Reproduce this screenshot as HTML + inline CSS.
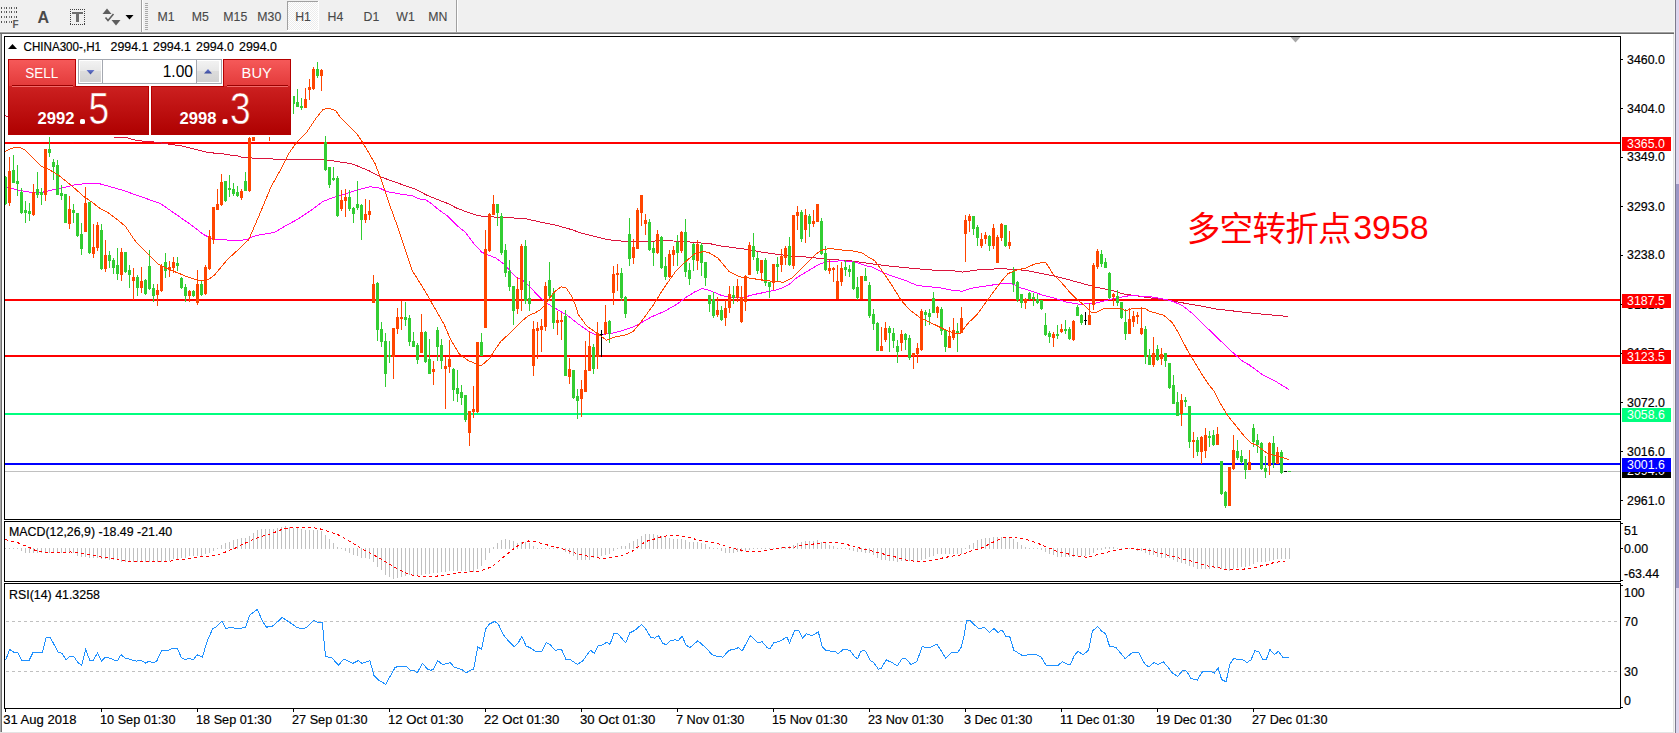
<!DOCTYPE html><html><head><meta charset="utf-8"><title>CHINA300-,H1</title><style>
html,body{margin:0;padding:0;width:1679px;height:733px;overflow:hidden;background:#f0f0f0;}
svg{position:absolute;left:0;top:0;display:block;}
text{font-family:'Liberation Sans', Arial, sans-serif;}
text.k{stroke:#000;stroke-width:0.18px;}
</style></head><body>
<svg width="1679" height="733" viewBox="0 0 1679 733">
<defs>
<linearGradient id="gTab" x1="0" y1="0" x2="0" y2="1"><stop offset="0" stop-color="#f65a5a"/><stop offset="1" stop-color="#e33a3a"/></linearGradient>
<linearGradient id="gBox" x1="0" y1="0" x2="0" y2="1"><stop offset="0" stop-color="#dd3232"/><stop offset="1" stop-color="#ae0000"/></linearGradient>
<linearGradient id="gBtn" x1="0" y1="0" x2="0" y2="1"><stop offset="0" stop-color="#f2f2f2"/><stop offset="0.45" stop-color="#e8e8e8"/><stop offset="0.5" stop-color="#dcdcdc"/><stop offset="1" stop-color="#d2d2d2"/></linearGradient>
<linearGradient id="gArr" x1="0" y1="0" x2="0" y2="1"><stop offset="0" stop-color="#6a7ad0"/><stop offset="1" stop-color="#3a4a9a"/></linearGradient>
<linearGradient id="gBoxU" gradientUnits="userSpaceOnUse" x1="0" y1="-38.3" x2="0" y2="10.7"><stop offset="0" stop-color="#dd3232"/><stop offset="1" stop-color="#ae0000"/></linearGradient>
</defs>
<g shape-rendering="crispEdges">
<rect x="0" y="0" width="1675" height="32" fill="#f0f0f0"/>
<rect x="0" y="31" width="1675" height="1" fill="#f7f7f7"/>
<rect x="0" y="32" width="1675" height="1" fill="#a0a0a0"/>
<rect x="0" y="33" width="1675" height="1" fill="#696969"/>
</g>
<g shape-rendering="crispEdges">
<rect x="1" y="7" width="1" height="2" fill="#4e4e4e"/>
<rect x="4" y="7" width="1" height="2" fill="#8a8a8a"/>
<rect x="6" y="7" width="1" height="2" fill="#4e4e4e"/>
<rect x="9" y="7" width="1" height="2" fill="#8a8a8a"/>
<rect x="11" y="7" width="1" height="2" fill="#4e4e4e"/>
<rect x="14" y="7" width="1" height="2" fill="#8a8a8a"/>
<rect x="16" y="7" width="1" height="2" fill="#4e4e4e"/>
<rect x="1" y="11" width="1" height="2" fill="#4e4e4e"/>
<rect x="4" y="11" width="1" height="2" fill="#8a8a8a"/>
<rect x="6" y="11" width="1" height="2" fill="#4e4e4e"/>
<rect x="9" y="11" width="1" height="2" fill="#8a8a8a"/>
<rect x="11" y="11" width="1" height="2" fill="#4e4e4e"/>
<rect x="14" y="11" width="1" height="2" fill="#8a8a8a"/>
<rect x="16" y="11" width="1" height="2" fill="#4e4e4e"/>
<rect x="1" y="16" width="1" height="2" fill="#4e4e4e"/>
<rect x="4" y="16" width="1" height="2" fill="#8a8a8a"/>
<rect x="6" y="16" width="1" height="2" fill="#4e4e4e"/>
<rect x="9" y="16" width="1" height="2" fill="#8a8a8a"/>
<rect x="11" y="16" width="1" height="2" fill="#4e4e4e"/>
<rect x="14" y="16" width="1" height="2" fill="#8a8a8a"/>
<rect x="16" y="16" width="1" height="2" fill="#4e4e4e"/>
<rect x="1" y="21" width="1" height="2" fill="#4e4e4e"/>
<rect x="4" y="21" width="1" height="2" fill="#8a8a8a"/>
<rect x="6" y="21" width="1" height="2" fill="#4e4e4e"/>
<rect x="9" y="21" width="1" height="2" fill="#8a8a8a"/>
<rect x="11" y="21" width="1" height="2" fill="#4e4e4e"/>
</g>
<text x="12.5" y="28" font-size="10" font-weight="bold" fill="#5a5a5a">F</text>
<text x="37.5" y="23" font-size="16" font-weight="bold" fill="#4a4a4a">A</text>
<g fill="#404040" shape-rendering="crispEdges">
<rect x="70" y="9" width="1" height="1"/><rect x="70" y="24" width="1" height="1"/>
<rect x="72" y="9" width="1" height="1"/><rect x="72" y="24" width="1" height="1"/>
<rect x="74" y="9" width="1" height="1"/><rect x="74" y="24" width="1" height="1"/>
<rect x="76" y="9" width="1" height="1"/><rect x="76" y="24" width="1" height="1"/>
<rect x="78" y="9" width="1" height="1"/><rect x="78" y="24" width="1" height="1"/>
<rect x="80" y="9" width="1" height="1"/><rect x="80" y="24" width="1" height="1"/>
<rect x="82" y="9" width="1" height="1"/><rect x="82" y="24" width="1" height="1"/>
<rect x="84" y="9" width="1" height="1"/><rect x="84" y="24" width="1" height="1"/>
<rect x="70" y="9" width="1" height="1"/><rect x="84" y="9" width="1" height="1"/>
<rect x="70" y="11" width="1" height="1"/><rect x="84" y="11" width="1" height="1"/>
<rect x="70" y="13" width="1" height="1"/><rect x="84" y="13" width="1" height="1"/>
<rect x="70" y="15" width="1" height="1"/><rect x="84" y="15" width="1" height="1"/>
<rect x="70" y="17" width="1" height="1"/><rect x="84" y="17" width="1" height="1"/>
<rect x="70" y="19" width="1" height="1"/><rect x="84" y="19" width="1" height="1"/>
<rect x="70" y="21" width="1" height="1"/><rect x="84" y="21" width="1" height="1"/>
<rect x="70" y="23" width="1" height="1"/><rect x="84" y="23" width="1" height="1"/>
</g>
<g fill="#6e6e6e" shape-rendering="crispEdges"><rect x="72" y="12" width="11" height="2"/><rect x="76" y="12" width="3" height="10"/></g>
<g fill="#5e5e5e">
<path d="M102.5,14 L107,8.5 L111.5,14 Z"/>
<path d="M111.5,20 L120.5,20 L116,25.5 Z"/>
</g>
<path d="M105.5,17.5 L108,20.5 L113.5,14" stroke="#5e5e5e" stroke-width="1.6" fill="none"/>
<path d="M125.5,15 L133.5,15 L129.5,19.5 Z" fill="#000"/>
<g shape-rendering="crispEdges">
<rect x="141" y="0" width="1" height="32" fill="#a0a0a0"/><rect x="142" y="0" width="1" height="32" fill="#ffffff"/>
<rect x="145" y="3" width="3" height="1" fill="#a8a8a8"/>
<rect x="145" y="5" width="3" height="1" fill="#a8a8a8"/>
<rect x="145" y="7" width="3" height="1" fill="#a8a8a8"/>
<rect x="145" y="9" width="3" height="1" fill="#a8a8a8"/>
<rect x="145" y="11" width="3" height="1" fill="#a8a8a8"/>
<rect x="145" y="13" width="3" height="1" fill="#a8a8a8"/>
<rect x="145" y="15" width="3" height="1" fill="#a8a8a8"/>
<rect x="145" y="17" width="3" height="1" fill="#a8a8a8"/>
<rect x="145" y="19" width="3" height="1" fill="#a8a8a8"/>
<rect x="145" y="21" width="3" height="1" fill="#a8a8a8"/>
<rect x="145" y="23" width="3" height="1" fill="#a8a8a8"/>
<rect x="145" y="25" width="3" height="1" fill="#a8a8a8"/>
<rect x="145" y="27" width="3" height="1" fill="#a8a8a8"/>
<rect x="145" y="29" width="3" height="1" fill="#a8a8a8"/>
<rect x="456" y="0" width="1" height="32" fill="#a0a0a0"/><rect x="457" y="0" width="1" height="32" fill="#ffffff"/>
<defs><pattern id="dith" width="2" height="2" patternUnits="userSpaceOnUse"><rect width="2" height="2" fill="#ffffff"/><rect width="1" height="1" fill="#ececec"/><rect x="1" y="1" width="1" height="1" fill="#ececec"/></pattern></defs>
<rect x="287" y="1" width="32" height="30" fill="#ffffff"/>
<rect x="288" y="2" width="30" height="28" fill="url(#dith)"/>
<rect x="287" y="1" width="31" height="1" fill="#a0a0a0"/><rect x="287" y="1" width="1" height="29" fill="#a0a0a0"/>
</g>
<text x="157.5" y="21.3" font-size="12.3" fill="#484848" stroke="#484848" stroke-width="0.12">M1</text>
<text x="191.8" y="21.3" font-size="12.3" fill="#484848" stroke="#484848" stroke-width="0.12">M5</text>
<text x="223.3" y="21.3" font-size="12.3" fill="#484848" stroke="#484848" stroke-width="0.12">M15</text>
<text x="257.3" y="21.3" font-size="12.3" fill="#484848" stroke="#484848" stroke-width="0.12">M30</text>
<text x="295.2" y="21.3" font-size="12.3" fill="#484848" stroke="#484848" stroke-width="0.12">H1</text>
<text x="327.5" y="21.3" font-size="12.3" fill="#484848" stroke="#484848" stroke-width="0.12">H4</text>
<text x="363.5" y="21.3" font-size="12.3" fill="#484848" stroke="#484848" stroke-width="0.12">D1</text>
<text x="396.3" y="21.3" font-size="12.3" fill="#484848" stroke="#484848" stroke-width="0.12">W1</text>
<text x="428.3" y="21.3" font-size="12.3" fill="#484848" stroke="#484848" stroke-width="0.12">MN</text>
<g shape-rendering="crispEdges">
<rect x="1674" y="0" width="1" height="733" fill="#f4f4f4"/>
<rect x="1675" y="0" width="1" height="733" fill="#7c7a8c"/>
<rect x="1676" y="0" width="3" height="733" fill="#ddd5ee"/>
<rect x="1676" y="184" width="3" height="404" fill="#9d97c6"/>
</g>
<g shape-rendering="crispEdges">
<rect x="0" y="34" width="1" height="698" fill="#a8a8a8"/>
<rect x="1" y="34" width="1" height="698" fill="#707070"/>
<rect x="2" y="34" width="1672" height="698" fill="#ffffff"/>
<rect x="1673" y="34" width="1" height="698" fill="#e2e2e2"/>
<rect x="0" y="732" width="1674" height="1" fill="#e4e4e4"/>
</g>
<g shape-rendering="crispEdges">
<rect x="5" y="142" width="1615" height="2" fill="#ff0000"/>
<rect x="5" y="299" width="1615" height="2" fill="#ff0000"/>
<rect x="5" y="355" width="1615" height="2" fill="#ff0000"/>
<rect x="5" y="413" width="1615" height="2" fill="#00ff7f"/>
<rect x="5" y="463" width="1615" height="2" fill="#0000ff"/>
<rect x="5" y="471" width="1615" height="1" fill="#c0c0c0"/>
</g>
<g fill="none" stroke-width="1" shape-rendering="crispEdges" stroke-linejoin="round">
<polyline points="5.0,115.8 9.5,116.5 60.5,126.5 110.5,135.5 116.8,137.9 128.0,137.9 133.0,139.8 141.1,140.9 149.2,141.7 156.3,142.2 172.5,144.7 180.5,145.7 188.7,147.7 196.8,149.8 204.9,151.8 209.0,152.8 220.1,153.3 228.2,154.8 236.3,155.6 241.4,157.1 256.5,158.4 267.1,158.8 297.8,159.9 326.5,159.9 336.7,161.5 349.5,163.3 355.1,165.0 369.2,170.9 382.3,177.5 397.5,182.9 405.5,185.8 415.0,188.9 426.0,194.8 438.2,199.8 447.8,203.5 457.3,208.4 465.5,211.4 473.7,214.4 484.6,216.9 502.3,217.1 526.4,218.9 546.0,223.3 555.5,225.1 563.7,227.5 571.9,229.6 580.1,232.8 588.3,234.9 596.5,236.9 604.6,239.0 612.8,240.2 621.0,241.0 629.2,241.9 642.3,241.7 664.2,240.5 686.0,241.7 710.5,243.8 722.3,246.2 744.2,249.0 766.0,252.8 790.5,256.0 807.3,257.1 829.2,259.3 851.0,260.8 875.5,264.3 892.3,266.4 914.2,268.5 936.0,270.3 960.5,271.2 962.1,272.1 977.3,270.0 999.2,268.7 1014.5,269.3 1027.5,270.8 1045.5,274.3 1053.5,275.9 1066.7,279.2 1084.2,284.0 1097.3,287.5 1112.5,290.5 1123.5,294.0 1130.5,294.9 1150.1,297.9 1174.7,301.5 1199.3,305.7 1215.5,308.9 1250.5,313.0 1288.5,316.5" stroke="#dc143c"/>
<polyline points="5.4,186.9 15.2,189.4 25.0,191.4 37.3,193.1 44.7,191.8 54.5,189.4 64.3,187.4 74.1,185.0 86.4,183.5 98.7,183.5 110.9,186.9 123.7,190.6 140.7,196.6 160.5,203.6 175.2,213.8 192.5,225.9 203.5,234.5 210.1,237.9 216.5,239.5 236.5,240.5 246.6,239.7 252.8,236.6 261.0,234.6 274.3,232.5 285.5,225.8 297.8,219.2 310.1,211.0 322.4,201.8 332.6,197.7 342.9,194.7 355.1,190.6 369.2,186.9 377.9,187.3 386.5,191.5 402.0,194.3 412.3,195.7 419.1,198.9 424.6,199.4 430.0,202.5 438.2,209.4 447.8,216.2 457.3,225.7 465.5,232.5 473.7,243.5 481.9,252.3 488.7,255.3 495.5,257.8 504.5,264.5 515.5,276.8 521.9,279.5 530.0,286.9 539.8,297.5 548.0,304.0 556.2,308.9 564.4,313.8 567.1,315.1 578.0,323.8 588.9,331.5 595.5,334.8 610.7,333.7 620.5,331.2 633.5,326.9 641.3,322.8 651.1,317.0 664.2,311.5 677.3,303.9 686.0,297.4 694.8,291.9 702.5,288.5 710.5,290.8 722.3,295.8 731.1,297.1 744.2,297.1 755.1,294.3 766.0,292.1 777.0,289.9 785.5,286.5 790.5,283.3 796.5,277.9 807.3,271.3 818.3,264.8 827.0,261.5 842.3,260.8 855.4,262.1 866.3,265.9 870.5,266.4 881.4,271.8 892.3,276.2 905.5,280.5 917.5,285.6 927.3,286.5 940.4,287.8 951.3,290.0 962.1,291.2 973.0,287.9 988.3,285.7 999.2,283.9 1012.3,283.9 1021.0,287.9 1032.0,291.2 1042.5,295.1 1053.5,297.8 1066.7,302.1 1079.8,304.3 1095.1,303.2 1106.0,300.6 1117.0,297.8 1130.5,295.5 1150.1,296.6 1169.8,300.3 1182.1,305.3 1194.3,315.1 1206.6,327.4 1215.5,336.0 1228.5,348.5 1241.5,360.5 1249.2,364.9 1262.3,374.7 1275.4,381.2 1288.9,389.5" stroke="#ff00ff"/>
</g>
<g shape-rendering="crispEdges">
<rect x="5" y="176" width="1" height="29" fill="#32cd32"/>
<rect x="4" y="177" width="3" height="27" fill="#32cd32"/>
<rect x="9" y="157" width="1" height="49" fill="#ff4500"/>
<rect x="8" y="171" width="3" height="32" fill="#ff4500"/>
<rect x="13" y="155" width="1" height="28" fill="#32cd32"/>
<rect x="12" y="170" width="3" height="13" fill="#32cd32"/>
<rect x="17" y="165" width="1" height="31" fill="#32cd32"/>
<rect x="16" y="181" width="3" height="3" fill="#32cd32"/>
<rect x="21" y="188" width="1" height="26" fill="#32cd32"/>
<rect x="20" y="192" width="3" height="21" fill="#32cd32"/>
<rect x="25" y="201" width="1" height="22" fill="#32cd32"/>
<rect x="24" y="210" width="3" height="3" fill="#32cd32"/>
<rect x="29" y="203" width="1" height="18" fill="#32cd32"/>
<rect x="28" y="211" width="3" height="3" fill="#32cd32"/>
<rect x="33" y="184" width="1" height="32" fill="#ff4500"/>
<rect x="32" y="192" width="3" height="23" fill="#ff4500"/>
<rect x="37" y="172" width="1" height="26" fill="#32cd32"/>
<rect x="36" y="189" width="3" height="6" fill="#32cd32"/>
<rect x="41" y="188" width="1" height="17" fill="#32cd32"/>
<rect x="40" y="192" width="3" height="3" fill="#32cd32"/>
<rect x="45" y="149" width="1" height="52" fill="#ff4500"/>
<rect x="44" y="149" width="3" height="46" fill="#ff4500"/>
<rect x="49" y="137" width="1" height="20" fill="#32cd32"/>
<rect x="48" y="149" width="3" height="4" fill="#32cd32"/>
<rect x="53" y="159" width="1" height="21" fill="#32cd32"/>
<rect x="52" y="162" width="3" height="5" fill="#32cd32"/>
<rect x="57" y="160" width="1" height="35" fill="#32cd32"/>
<rect x="56" y="165" width="3" height="30" fill="#32cd32"/>
<rect x="61" y="185" width="1" height="15" fill="#32cd32"/>
<rect x="60" y="193" width="3" height="3" fill="#32cd32"/>
<rect x="65" y="194" width="1" height="29" fill="#32cd32"/>
<rect x="64" y="194" width="3" height="29" fill="#32cd32"/>
<rect x="69" y="196" width="1" height="33" fill="#ff4500"/>
<rect x="68" y="209" width="3" height="15" fill="#ff4500"/>
<rect x="73" y="204" width="1" height="19" fill="#32cd32"/>
<rect x="72" y="210" width="3" height="3" fill="#32cd32"/>
<rect x="77" y="213" width="1" height="24" fill="#32cd32"/>
<rect x="76" y="213" width="3" height="23" fill="#32cd32"/>
<rect x="81" y="223" width="1" height="32" fill="#32cd32"/>
<rect x="80" y="234" width="3" height="15" fill="#32cd32"/>
<rect x="85" y="187" width="1" height="45" fill="#ff4500"/>
<rect x="84" y="203" width="3" height="29" fill="#ff4500"/>
<rect x="89" y="202" width="1" height="52" fill="#32cd32"/>
<rect x="88" y="202" width="3" height="51" fill="#32cd32"/>
<rect x="93" y="224" width="1" height="34" fill="#ff4500"/>
<rect x="92" y="247" width="3" height="7" fill="#ff4500"/>
<rect x="97" y="222" width="1" height="29" fill="#ff4500"/>
<rect x="96" y="225" width="3" height="23" fill="#ff4500"/>
<rect x="101" y="224" width="1" height="46" fill="#32cd32"/>
<rect x="100" y="230" width="3" height="39" fill="#32cd32"/>
<rect x="105" y="240" width="1" height="32" fill="#ff4500"/>
<rect x="104" y="255" width="3" height="14" fill="#ff4500"/>
<rect x="109" y="251" width="1" height="17" fill="#32cd32"/>
<rect x="108" y="255" width="3" height="6" fill="#32cd32"/>
<rect x="113" y="258" width="1" height="16" fill="#32cd32"/>
<rect x="112" y="260" width="3" height="8" fill="#32cd32"/>
<rect x="117" y="248" width="1" height="32" fill="#32cd32"/>
<rect x="116" y="265" width="3" height="9" fill="#32cd32"/>
<rect x="121" y="248" width="1" height="33" fill="#ff4500"/>
<rect x="120" y="252" width="3" height="23" fill="#ff4500"/>
<rect x="125" y="252" width="1" height="21" fill="#32cd32"/>
<rect x="124" y="252" width="3" height="20" fill="#32cd32"/>
<rect x="129" y="265" width="1" height="23" fill="#32cd32"/>
<rect x="128" y="270" width="3" height="5" fill="#32cd32"/>
<rect x="133" y="268" width="1" height="32" fill="#ff4500"/>
<rect x="132" y="277" width="3" height="4" fill="#ff4500"/>
<rect x="137" y="275" width="1" height="21" fill="#32cd32"/>
<rect x="136" y="277" width="3" height="11" fill="#32cd32"/>
<rect x="141" y="267" width="1" height="26" fill="#ff4500"/>
<rect x="140" y="281" width="3" height="7" fill="#ff4500"/>
<rect x="145" y="279" width="1" height="16" fill="#32cd32"/>
<rect x="144" y="280" width="3" height="14" fill="#32cd32"/>
<rect x="149" y="250" width="1" height="40" fill="#32cd32"/>
<rect x="148" y="266" width="3" height="23" fill="#32cd32"/>
<rect x="153" y="284" width="1" height="18" fill="#32cd32"/>
<rect x="152" y="288" width="3" height="8" fill="#32cd32"/>
<rect x="157" y="284" width="1" height="22" fill="#ff4500"/>
<rect x="156" y="290" width="3" height="5" fill="#ff4500"/>
<rect x="161" y="264" width="1" height="28" fill="#ff4500"/>
<rect x="160" y="266" width="3" height="25" fill="#ff4500"/>
<rect x="165" y="253" width="1" height="25" fill="#32cd32"/>
<rect x="164" y="262" width="3" height="9" fill="#32cd32"/>
<rect x="169" y="261" width="1" height="16" fill="#ff4500"/>
<rect x="168" y="267" width="3" height="3" fill="#ff4500"/>
<rect x="173" y="257" width="1" height="16" fill="#ff4500"/>
<rect x="172" y="262" width="3" height="6" fill="#ff4500"/>
<rect x="177" y="257" width="1" height="14" fill="#32cd32"/>
<rect x="176" y="263" width="3" height="3" fill="#32cd32"/>
<rect x="181" y="277" width="1" height="12" fill="#32cd32"/>
<rect x="180" y="278" width="3" height="10" fill="#32cd32"/>
<rect x="185" y="284" width="1" height="18" fill="#32cd32"/>
<rect x="184" y="287" width="3" height="9" fill="#32cd32"/>
<rect x="189" y="290" width="1" height="12" fill="#ff4500"/>
<rect x="188" y="291" width="3" height="5" fill="#ff4500"/>
<rect x="193" y="290" width="1" height="7" fill="#32cd32"/>
<rect x="192" y="291" width="3" height="5" fill="#32cd32"/>
<rect x="197" y="270" width="1" height="35" fill="#ff4500"/>
<rect x="196" y="284" width="3" height="19" fill="#ff4500"/>
<rect x="201" y="281" width="1" height="15" fill="#32cd32"/>
<rect x="200" y="284" width="3" height="11" fill="#32cd32"/>
<rect x="205" y="265" width="1" height="30" fill="#ff4500"/>
<rect x="204" y="267" width="3" height="27" fill="#ff4500"/>
<rect x="209" y="230" width="1" height="40" fill="#ff4500"/>
<rect x="208" y="236" width="3" height="33" fill="#ff4500"/>
<rect x="213" y="207" width="1" height="37" fill="#ff4500"/>
<rect x="212" y="207" width="3" height="33" fill="#ff4500"/>
<rect x="217" y="189" width="1" height="21" fill="#ff4500"/>
<rect x="216" y="204" width="3" height="6" fill="#ff4500"/>
<rect x="221" y="174" width="1" height="32" fill="#ff4500"/>
<rect x="220" y="182" width="3" height="23" fill="#ff4500"/>
<rect x="225" y="181" width="1" height="21" fill="#32cd32"/>
<rect x="224" y="181" width="3" height="20" fill="#32cd32"/>
<rect x="229" y="175" width="1" height="22" fill="#32cd32"/>
<rect x="228" y="188" width="3" height="2" fill="#32cd32"/>
<rect x="233" y="183" width="1" height="13" fill="#32cd32"/>
<rect x="232" y="189" width="3" height="5" fill="#32cd32"/>
<rect x="237" y="186" width="1" height="11" fill="#32cd32"/>
<rect x="236" y="192" width="3" height="4" fill="#32cd32"/>
<rect x="241" y="189" width="1" height="11" fill="#ff4500"/>
<rect x="240" y="191" width="3" height="7" fill="#ff4500"/>
<rect x="245" y="172" width="1" height="19" fill="#32cd32"/>
<rect x="244" y="181" width="3" height="10" fill="#32cd32"/>
<rect x="249" y="137" width="1" height="55" fill="#ff4500"/>
<rect x="248" y="138" width="3" height="53" fill="#ff4500"/>
<rect x="253" y="105" width="1" height="36" fill="#ff4500"/>
<rect x="252" y="110" width="3" height="31" fill="#ff4500"/>
<rect x="257" y="95" width="1" height="31" fill="#ff4500"/>
<rect x="256" y="100" width="3" height="21" fill="#ff4500"/>
<rect x="261" y="90" width="1" height="29" fill="#32cd32"/>
<rect x="260" y="95" width="3" height="16" fill="#32cd32"/>
<rect x="265" y="92" width="1" height="27" fill="#ff4500"/>
<rect x="264" y="100" width="3" height="13" fill="#ff4500"/>
<rect x="269" y="100" width="1" height="41" fill="#ff4500"/>
<rect x="268" y="100" width="3" height="26" fill="#ff4500"/>
<rect x="273" y="95" width="1" height="26" fill="#32cd32"/>
<rect x="272" y="100" width="3" height="16" fill="#32cd32"/>
<rect x="277" y="90" width="1" height="21" fill="#ff4500"/>
<rect x="276" y="95" width="3" height="11" fill="#ff4500"/>
<rect x="281" y="85" width="1" height="21" fill="#ff4500"/>
<rect x="280" y="90" width="3" height="11" fill="#ff4500"/>
<rect x="285" y="88" width="1" height="17" fill="#32cd32"/>
<rect x="284" y="92" width="3" height="9" fill="#32cd32"/>
<rect x="289" y="90" width="1" height="16" fill="#ff4500"/>
<rect x="288" y="95" width="3" height="6" fill="#ff4500"/>
<rect x="293" y="96" width="1" height="18" fill="#32cd32"/>
<rect x="292" y="96" width="3" height="8" fill="#32cd32"/>
<rect x="297" y="89" width="1" height="18" fill="#32cd32"/>
<rect x="296" y="102" width="3" height="5" fill="#32cd32"/>
<rect x="301" y="98" width="1" height="12" fill="#32cd32"/>
<rect x="300" y="106" width="3" height="2" fill="#32cd32"/>
<rect x="305" y="88" width="1" height="20" fill="#ff4500"/>
<rect x="304" y="99" width="3" height="9" fill="#ff4500"/>
<rect x="309" y="79" width="1" height="21" fill="#ff4500"/>
<rect x="308" y="87" width="3" height="3" fill="#ff4500"/>
<rect x="313" y="67" width="1" height="23" fill="#ff4500"/>
<rect x="312" y="69" width="3" height="20" fill="#ff4500"/>
<rect x="317" y="62" width="1" height="16" fill="#32cd32"/>
<rect x="316" y="69" width="3" height="7" fill="#32cd32"/>
<rect x="321" y="69" width="1" height="22" fill="#ff4500"/>
<rect x="320" y="70" width="3" height="6" fill="#ff4500"/>
<rect x="325" y="136" width="1" height="35" fill="#32cd32"/>
<rect x="324" y="142" width="3" height="28" fill="#32cd32"/>
<rect x="329" y="167" width="1" height="21" fill="#32cd32"/>
<rect x="328" y="167" width="3" height="18" fill="#32cd32"/>
<rect x="333" y="167" width="1" height="14" fill="#32cd32"/>
<rect x="332" y="178" width="3" height="2" fill="#32cd32"/>
<rect x="337" y="176" width="1" height="41" fill="#32cd32"/>
<rect x="336" y="178" width="3" height="38" fill="#32cd32"/>
<rect x="341" y="190" width="1" height="21" fill="#ff4500"/>
<rect x="340" y="200" width="3" height="9" fill="#ff4500"/>
<rect x="345" y="189" width="1" height="28" fill="#ff4500"/>
<rect x="344" y="197" width="3" height="4" fill="#ff4500"/>
<rect x="349" y="190" width="1" height="21" fill="#32cd32"/>
<rect x="348" y="197" width="3" height="12" fill="#32cd32"/>
<rect x="353" y="207" width="1" height="16" fill="#32cd32"/>
<rect x="352" y="208" width="3" height="6" fill="#32cd32"/>
<rect x="357" y="181" width="1" height="29" fill="#32cd32"/>
<rect x="356" y="204" width="3" height="4" fill="#32cd32"/>
<rect x="361" y="204" width="1" height="36" fill="#32cd32"/>
<rect x="360" y="205" width="3" height="15" fill="#32cd32"/>
<rect x="365" y="199" width="1" height="24" fill="#ff4500"/>
<rect x="364" y="214" width="3" height="6" fill="#ff4500"/>
<rect x="369" y="200" width="1" height="20" fill="#ff4500"/>
<rect x="368" y="211" width="3" height="4" fill="#ff4500"/>
<rect x="373" y="275" width="1" height="28" fill="#ff4500"/>
<rect x="372" y="284" width="3" height="19" fill="#ff4500"/>
<rect x="377" y="282" width="1" height="59" fill="#32cd32"/>
<rect x="376" y="283" width="3" height="47" fill="#32cd32"/>
<rect x="381" y="322" width="1" height="25" fill="#32cd32"/>
<rect x="380" y="329" width="3" height="13" fill="#32cd32"/>
<rect x="385" y="333" width="1" height="54" fill="#32cd32"/>
<rect x="384" y="341" width="3" height="33" fill="#32cd32"/>
<rect x="389" y="341" width="1" height="22" fill="#32cd32"/>
<rect x="388" y="355" width="3" height="2" fill="#32cd32"/>
<rect x="393" y="328" width="1" height="51" fill="#ff4500"/>
<rect x="392" y="328" width="3" height="29" fill="#ff4500"/>
<rect x="397" y="308" width="1" height="26" fill="#ff4500"/>
<rect x="396" y="317" width="3" height="12" fill="#ff4500"/>
<rect x="401" y="301" width="1" height="29" fill="#ff4500"/>
<rect x="400" y="317" width="3" height="2" fill="#ff4500"/>
<rect x="405" y="302" width="1" height="24" fill="#32cd32"/>
<rect x="404" y="317" width="3" height="3" fill="#32cd32"/>
<rect x="409" y="315" width="1" height="31" fill="#32cd32"/>
<rect x="408" y="318" width="3" height="24" fill="#32cd32"/>
<rect x="413" y="332" width="1" height="15" fill="#32cd32"/>
<rect x="412" y="341" width="3" height="6" fill="#32cd32"/>
<rect x="417" y="343" width="1" height="21" fill="#32cd32"/>
<rect x="416" y="345" width="3" height="15" fill="#32cd32"/>
<rect x="421" y="314" width="1" height="39" fill="#ff4500"/>
<rect x="420" y="332" width="3" height="21" fill="#ff4500"/>
<rect x="425" y="331" width="1" height="32" fill="#32cd32"/>
<rect x="424" y="332" width="3" height="30" fill="#32cd32"/>
<rect x="429" y="339" width="1" height="35" fill="#32cd32"/>
<rect x="428" y="359" width="3" height="15" fill="#32cd32"/>
<rect x="433" y="361" width="1" height="24" fill="#ff4500"/>
<rect x="432" y="369" width="3" height="3" fill="#ff4500"/>
<rect x="437" y="327" width="1" height="34" fill="#32cd32"/>
<rect x="436" y="330" width="3" height="17" fill="#32cd32"/>
<rect x="441" y="339" width="1" height="30" fill="#32cd32"/>
<rect x="440" y="345" width="3" height="16" fill="#32cd32"/>
<rect x="445" y="357" width="1" height="52" fill="#ff4500"/>
<rect x="444" y="366" width="3" height="3" fill="#ff4500"/>
<rect x="449" y="340" width="1" height="33" fill="#ff4500"/>
<rect x="448" y="359" width="3" height="8" fill="#ff4500"/>
<rect x="453" y="368" width="1" height="33" fill="#32cd32"/>
<rect x="452" y="369" width="3" height="21" fill="#32cd32"/>
<rect x="457" y="370" width="1" height="32" fill="#32cd32"/>
<rect x="456" y="388" width="3" height="6" fill="#32cd32"/>
<rect x="461" y="385" width="1" height="20" fill="#32cd32"/>
<rect x="460" y="392" width="3" height="6" fill="#32cd32"/>
<rect x="465" y="395" width="1" height="27" fill="#32cd32"/>
<rect x="464" y="395" width="3" height="25" fill="#32cd32"/>
<rect x="469" y="411" width="1" height="35" fill="#ff4500"/>
<rect x="468" y="411" width="3" height="22" fill="#ff4500"/>
<rect x="473" y="386" width="1" height="32" fill="#ff4500"/>
<rect x="472" y="409" width="3" height="3" fill="#ff4500"/>
<rect x="477" y="342" width="1" height="71" fill="#ff4500"/>
<rect x="476" y="342" width="3" height="70" fill="#ff4500"/>
<rect x="481" y="333" width="1" height="23" fill="#32cd32"/>
<rect x="480" y="342" width="3" height="14" fill="#32cd32"/>
<rect x="485" y="230" width="1" height="98" fill="#ff4500"/>
<rect x="484" y="249" width="3" height="79" fill="#ff4500"/>
<rect x="489" y="213" width="1" height="39" fill="#ff4500"/>
<rect x="488" y="214" width="3" height="37" fill="#ff4500"/>
<rect x="493" y="195" width="1" height="20" fill="#ff4500"/>
<rect x="492" y="204" width="3" height="11" fill="#ff4500"/>
<rect x="497" y="204" width="1" height="22" fill="#32cd32"/>
<rect x="496" y="204" width="3" height="9" fill="#32cd32"/>
<rect x="501" y="213" width="1" height="42" fill="#32cd32"/>
<rect x="500" y="216" width="3" height="37" fill="#32cd32"/>
<rect x="505" y="244" width="1" height="33" fill="#32cd32"/>
<rect x="504" y="250" width="3" height="23" fill="#32cd32"/>
<rect x="509" y="260" width="1" height="31" fill="#32cd32"/>
<rect x="508" y="271" width="3" height="16" fill="#32cd32"/>
<rect x="513" y="286" width="1" height="39" fill="#32cd32"/>
<rect x="512" y="286" width="3" height="25" fill="#32cd32"/>
<rect x="517" y="277" width="1" height="37" fill="#ff4500"/>
<rect x="516" y="289" width="3" height="20" fill="#ff4500"/>
<rect x="521" y="244" width="1" height="67" fill="#ff4500"/>
<rect x="520" y="246" width="3" height="44" fill="#ff4500"/>
<rect x="525" y="240" width="1" height="64" fill="#32cd32"/>
<rect x="524" y="246" width="3" height="55" fill="#32cd32"/>
<rect x="529" y="281" width="1" height="30" fill="#32cd32"/>
<rect x="528" y="298" width="3" height="6" fill="#32cd32"/>
<rect x="533" y="321" width="1" height="55" fill="#ff4500"/>
<rect x="532" y="329" width="3" height="37" fill="#ff4500"/>
<rect x="537" y="322" width="1" height="37" fill="#ff4500"/>
<rect x="536" y="328" width="3" height="3" fill="#ff4500"/>
<rect x="541" y="319" width="1" height="33" fill="#ff4500"/>
<rect x="540" y="326" width="3" height="4" fill="#ff4500"/>
<rect x="545" y="282" width="1" height="49" fill="#ff4500"/>
<rect x="544" y="286" width="3" height="41" fill="#ff4500"/>
<rect x="549" y="262" width="1" height="39" fill="#32cd32"/>
<rect x="548" y="280" width="3" height="16" fill="#32cd32"/>
<rect x="553" y="288" width="1" height="41" fill="#32cd32"/>
<rect x="552" y="293" width="3" height="30" fill="#32cd32"/>
<rect x="557" y="311" width="1" height="24" fill="#ff4500"/>
<rect x="556" y="320" width="3" height="3" fill="#ff4500"/>
<rect x="561" y="313" width="1" height="27" fill="#ff4500"/>
<rect x="560" y="320" width="3" height="2" fill="#ff4500"/>
<rect x="565" y="310" width="1" height="66" fill="#32cd32"/>
<rect x="564" y="316" width="3" height="60" fill="#32cd32"/>
<rect x="569" y="358" width="1" height="26" fill="#ff4500"/>
<rect x="568" y="369" width="3" height="8" fill="#ff4500"/>
<rect x="573" y="370" width="1" height="29" fill="#32cd32"/>
<rect x="572" y="370" width="3" height="28" fill="#32cd32"/>
<rect x="577" y="389" width="1" height="30" fill="#32cd32"/>
<rect x="576" y="396" width="3" height="5" fill="#32cd32"/>
<rect x="581" y="380" width="1" height="37" fill="#ff4500"/>
<rect x="580" y="389" width="3" height="10" fill="#ff4500"/>
<rect x="585" y="341" width="1" height="51" fill="#ff4500"/>
<rect x="584" y="370" width="3" height="22" fill="#ff4500"/>
<rect x="589" y="331" width="1" height="40" fill="#ff4500"/>
<rect x="588" y="346" width="3" height="25" fill="#ff4500"/>
<rect x="593" y="344" width="1" height="30" fill="#32cd32"/>
<rect x="592" y="347" width="3" height="22" fill="#32cd32"/>
<rect x="597" y="322" width="1" height="47" fill="#ff4500"/>
<rect x="596" y="333" width="3" height="24" fill="#ff4500"/>
<rect x="601" y="330" width="1" height="27" fill="#000000"/><rect x="600" y="334" width="3" height="1" fill="#000000"/>
<rect x="605" y="305" width="1" height="30" fill="#ff4500"/>
<rect x="604" y="322" width="3" height="12" fill="#ff4500"/>
<rect x="609" y="320" width="1" height="23" fill="#32cd32"/>
<rect x="608" y="321" width="3" height="13" fill="#32cd32"/>
<rect x="613" y="266" width="1" height="39" fill="#ff4500"/>
<rect x="612" y="274" width="3" height="19" fill="#ff4500"/>
<rect x="617" y="264" width="1" height="27" fill="#ff4500"/>
<rect x="616" y="273" width="3" height="2" fill="#ff4500"/>
<rect x="621" y="268" width="1" height="33" fill="#32cd32"/>
<rect x="620" y="273" width="3" height="25" fill="#32cd32"/>
<rect x="625" y="296" width="1" height="22" fill="#32cd32"/>
<rect x="624" y="297" width="3" height="17" fill="#32cd32"/>
<rect x="629" y="218" width="1" height="48" fill="#32cd32"/>
<rect x="628" y="234" width="3" height="25" fill="#32cd32"/>
<rect x="633" y="239" width="1" height="25" fill="#ff4500"/>
<rect x="632" y="247" width="3" height="11" fill="#ff4500"/>
<rect x="637" y="208" width="1" height="41" fill="#ff4500"/>
<rect x="636" y="210" width="3" height="39" fill="#ff4500"/>
<rect x="641" y="195" width="1" height="31" fill="#ff4500"/>
<rect x="640" y="195" width="3" height="18" fill="#ff4500"/>
<rect x="645" y="214" width="1" height="21" fill="#ff4500"/>
<rect x="644" y="220" width="3" height="4" fill="#ff4500"/>
<rect x="649" y="219" width="1" height="32" fill="#32cd32"/>
<rect x="648" y="222" width="3" height="28" fill="#32cd32"/>
<rect x="653" y="242" width="1" height="24" fill="#32cd32"/>
<rect x="652" y="248" width="3" height="5" fill="#32cd32"/>
<rect x="657" y="230" width="1" height="24" fill="#ff4500"/>
<rect x="656" y="234" width="3" height="19" fill="#ff4500"/>
<rect x="661" y="236" width="1" height="33" fill="#32cd32"/>
<rect x="660" y="237" width="3" height="31" fill="#32cd32"/>
<rect x="665" y="257" width="1" height="23" fill="#32cd32"/>
<rect x="664" y="266" width="3" height="11" fill="#32cd32"/>
<rect x="669" y="250" width="1" height="28" fill="#ff4500"/>
<rect x="668" y="254" width="3" height="23" fill="#ff4500"/>
<rect x="673" y="246" width="1" height="20" fill="#ff4500"/>
<rect x="672" y="250" width="3" height="5" fill="#ff4500"/>
<rect x="677" y="235" width="1" height="31" fill="#32cd32"/>
<rect x="676" y="242" width="3" height="11" fill="#32cd32"/>
<rect x="681" y="231" width="1" height="22" fill="#ff4500"/>
<rect x="680" y="232" width="3" height="19" fill="#ff4500"/>
<rect x="685" y="219" width="1" height="58" fill="#32cd32"/>
<rect x="684" y="232" width="3" height="40" fill="#32cd32"/>
<rect x="689" y="263" width="1" height="22" fill="#32cd32"/>
<rect x="688" y="270" width="3" height="9" fill="#32cd32"/>
<rect x="693" y="243" width="1" height="28" fill="#32cd32"/>
<rect x="692" y="244" width="3" height="16" fill="#32cd32"/>
<rect x="697" y="240" width="1" height="30" fill="#ff4500"/>
<rect x="696" y="244" width="3" height="17" fill="#ff4500"/>
<rect x="701" y="243" width="1" height="33" fill="#32cd32"/>
<rect x="700" y="245" width="3" height="18" fill="#32cd32"/>
<rect x="705" y="262" width="1" height="24" fill="#32cd32"/>
<rect x="704" y="262" width="3" height="16" fill="#32cd32"/>
<rect x="709" y="295" width="1" height="17" fill="#32cd32"/>
<rect x="708" y="295" width="3" height="9" fill="#32cd32"/>
<rect x="713" y="292" width="1" height="26" fill="#32cd32"/>
<rect x="712" y="299" width="3" height="17" fill="#32cd32"/>
<rect x="717" y="297" width="1" height="20" fill="#ff4500"/>
<rect x="716" y="310" width="3" height="5" fill="#ff4500"/>
<rect x="721" y="306" width="1" height="15" fill="#32cd32"/>
<rect x="720" y="310" width="3" height="10" fill="#32cd32"/>
<rect x="725" y="300" width="1" height="26" fill="#ff4500"/>
<rect x="724" y="308" width="3" height="10" fill="#ff4500"/>
<rect x="729" y="286" width="1" height="27" fill="#ff4500"/>
<rect x="728" y="294" width="3" height="14" fill="#ff4500"/>
<rect x="733" y="286" width="1" height="18" fill="#32cd32"/>
<rect x="732" y="295" width="3" height="3" fill="#32cd32"/>
<rect x="737" y="279" width="1" height="23" fill="#ff4500"/>
<rect x="736" y="286" width="3" height="12" fill="#ff4500"/>
<rect x="741" y="286" width="1" height="37" fill="#ff4500"/>
<rect x="740" y="297" width="3" height="25" fill="#ff4500"/>
<rect x="745" y="275" width="1" height="36" fill="#ff4500"/>
<rect x="744" y="276" width="3" height="26" fill="#ff4500"/>
<rect x="749" y="242" width="1" height="33" fill="#ff4500"/>
<rect x="748" y="245" width="3" height="30" fill="#ff4500"/>
<rect x="753" y="233" width="1" height="27" fill="#32cd32"/>
<rect x="752" y="246" width="3" height="11" fill="#32cd32"/>
<rect x="757" y="252" width="1" height="22" fill="#32cd32"/>
<rect x="756" y="258" width="3" height="13" fill="#32cd32"/>
<rect x="761" y="260" width="1" height="21" fill="#ff4500"/>
<rect x="760" y="260" width="3" height="13" fill="#ff4500"/>
<rect x="765" y="258" width="1" height="28" fill="#32cd32"/>
<rect x="764" y="260" width="3" height="23" fill="#32cd32"/>
<rect x="769" y="282" width="1" height="16" fill="#32cd32"/>
<rect x="768" y="282" width="3" height="5" fill="#32cd32"/>
<rect x="773" y="264" width="1" height="26" fill="#ff4500"/>
<rect x="772" y="264" width="3" height="19" fill="#ff4500"/>
<rect x="777" y="257" width="1" height="25" fill="#32cd32"/>
<rect x="776" y="264" width="3" height="3" fill="#32cd32"/>
<rect x="781" y="249" width="1" height="23" fill="#ff4500"/>
<rect x="780" y="256" width="3" height="9" fill="#ff4500"/>
<rect x="785" y="246" width="1" height="19" fill="#ff4500"/>
<rect x="784" y="248" width="3" height="10" fill="#ff4500"/>
<rect x="789" y="237" width="1" height="29" fill="#32cd32"/>
<rect x="788" y="246" width="3" height="19" fill="#32cd32"/>
<rect x="793" y="215" width="1" height="54" fill="#ff4500"/>
<rect x="792" y="215" width="3" height="51" fill="#ff4500"/>
<rect x="797" y="206" width="1" height="24" fill="#ff4500"/>
<rect x="796" y="212" width="3" height="4" fill="#ff4500"/>
<rect x="801" y="210" width="1" height="32" fill="#32cd32"/>
<rect x="800" y="212" width="3" height="27" fill="#32cd32"/>
<rect x="805" y="209" width="1" height="34" fill="#ff4500"/>
<rect x="804" y="215" width="3" height="15" fill="#ff4500"/>
<rect x="809" y="214" width="1" height="23" fill="#32cd32"/>
<rect x="808" y="216" width="3" height="8" fill="#32cd32"/>
<rect x="813" y="210" width="1" height="17" fill="#ff4500"/>
<rect x="812" y="221" width="3" height="3" fill="#ff4500"/>
<rect x="817" y="204" width="1" height="18" fill="#ff4500"/>
<rect x="816" y="204" width="3" height="18" fill="#ff4500"/>
<rect x="821" y="218" width="1" height="37" fill="#32cd32"/>
<rect x="820" y="221" width="3" height="33" fill="#32cd32"/>
<rect x="825" y="246" width="1" height="25" fill="#32cd32"/>
<rect x="824" y="253" width="3" height="17" fill="#32cd32"/>
<rect x="829" y="260" width="1" height="14" fill="#ff4500"/>
<rect x="828" y="268" width="3" height="3" fill="#ff4500"/>
<rect x="833" y="267" width="1" height="15" fill="#ff4500"/>
<rect x="832" y="268" width="3" height="2" fill="#ff4500"/>
<rect x="837" y="265" width="1" height="34" fill="#ff4500"/>
<rect x="836" y="281" width="3" height="18" fill="#ff4500"/>
<rect x="841" y="262" width="1" height="24" fill="#ff4500"/>
<rect x="840" y="268" width="3" height="14" fill="#ff4500"/>
<rect x="845" y="260" width="1" height="16" fill="#32cd32"/>
<rect x="844" y="267" width="3" height="3" fill="#32cd32"/>
<rect x="849" y="265" width="1" height="12" fill="#32cd32"/>
<rect x="848" y="269" width="3" height="3" fill="#32cd32"/>
<rect x="853" y="261" width="1" height="29" fill="#32cd32"/>
<rect x="852" y="262" width="3" height="27" fill="#32cd32"/>
<rect x="857" y="277" width="1" height="23" fill="#32cd32"/>
<rect x="856" y="287" width="3" height="11" fill="#32cd32"/>
<rect x="861" y="276" width="1" height="23" fill="#ff4500"/>
<rect x="860" y="276" width="3" height="23" fill="#ff4500"/>
<rect x="865" y="268" width="1" height="13" fill="#32cd32"/>
<rect x="864" y="276" width="3" height="5" fill="#32cd32"/>
<rect x="869" y="282" width="1" height="36" fill="#32cd32"/>
<rect x="868" y="285" width="3" height="31" fill="#32cd32"/>
<rect x="873" y="309" width="1" height="21" fill="#32cd32"/>
<rect x="872" y="314" width="3" height="10" fill="#32cd32"/>
<rect x="877" y="322" width="1" height="29" fill="#32cd32"/>
<rect x="876" y="323" width="3" height="28" fill="#32cd32"/>
<rect x="881" y="327" width="1" height="24" fill="#ff4500"/>
<rect x="880" y="346" width="3" height="5" fill="#ff4500"/>
<rect x="885" y="322" width="1" height="20" fill="#ff4500"/>
<rect x="884" y="328" width="3" height="12" fill="#ff4500"/>
<rect x="889" y="326" width="1" height="26" fill="#32cd32"/>
<rect x="888" y="328" width="3" height="5" fill="#32cd32"/>
<rect x="893" y="328" width="1" height="20" fill="#32cd32"/>
<rect x="892" y="333" width="3" height="8" fill="#32cd32"/>
<rect x="897" y="340" width="1" height="23" fill="#32cd32"/>
<rect x="896" y="346" width="3" height="6" fill="#32cd32"/>
<rect x="901" y="330" width="1" height="21" fill="#ff4500"/>
<rect x="900" y="334" width="3" height="9" fill="#ff4500"/>
<rect x="905" y="333" width="1" height="17" fill="#32cd32"/>
<rect x="904" y="334" width="3" height="6" fill="#32cd32"/>
<rect x="909" y="335" width="1" height="25" fill="#32cd32"/>
<rect x="908" y="338" width="3" height="20" fill="#32cd32"/>
<rect x="913" y="353" width="1" height="16" fill="#ff4500"/>
<rect x="912" y="353" width="3" height="3" fill="#ff4500"/>
<rect x="917" y="343" width="1" height="20" fill="#ff4500"/>
<rect x="916" y="348" width="3" height="6" fill="#ff4500"/>
<rect x="921" y="309" width="1" height="42" fill="#ff4500"/>
<rect x="920" y="311" width="3" height="39" fill="#ff4500"/>
<rect x="925" y="310" width="1" height="16" fill="#32cd32"/>
<rect x="924" y="312" width="3" height="3" fill="#32cd32"/>
<rect x="929" y="309" width="1" height="16" fill="#32cd32"/>
<rect x="928" y="313" width="3" height="4" fill="#32cd32"/>
<rect x="933" y="292" width="1" height="21" fill="#32cd32"/>
<rect x="932" y="298" width="3" height="15" fill="#32cd32"/>
<rect x="937" y="306" width="1" height="12" fill="#ff4500"/>
<rect x="936" y="307" width="3" height="6" fill="#ff4500"/>
<rect x="941" y="307" width="1" height="28" fill="#32cd32"/>
<rect x="940" y="309" width="3" height="22" fill="#32cd32"/>
<rect x="945" y="330" width="1" height="22" fill="#32cd32"/>
<rect x="944" y="330" width="3" height="17" fill="#32cd32"/>
<rect x="949" y="327" width="1" height="21" fill="#ff4500"/>
<rect x="948" y="336" width="3" height="12" fill="#ff4500"/>
<rect x="953" y="318" width="1" height="22" fill="#ff4500"/>
<rect x="952" y="330" width="3" height="8" fill="#ff4500"/>
<rect x="957" y="323" width="1" height="29" fill="#32cd32"/>
<rect x="956" y="331" width="3" height="2" fill="#32cd32"/>
<rect x="961" y="307" width="1" height="26" fill="#ff4500"/>
<rect x="960" y="318" width="3" height="15" fill="#ff4500"/>
<rect x="965" y="215" width="1" height="47" fill="#ff4500"/>
<rect x="964" y="220" width="3" height="14" fill="#ff4500"/>
<rect x="969" y="214" width="1" height="18" fill="#ff4500"/>
<rect x="968" y="216" width="3" height="5" fill="#ff4500"/>
<rect x="973" y="216" width="1" height="19" fill="#32cd32"/>
<rect x="972" y="216" width="3" height="13" fill="#32cd32"/>
<rect x="977" y="225" width="1" height="21" fill="#32cd32"/>
<rect x="976" y="227" width="3" height="11" fill="#32cd32"/>
<rect x="981" y="233" width="1" height="15" fill="#ff4500"/>
<rect x="980" y="239" width="3" height="7" fill="#ff4500"/>
<rect x="985" y="232" width="1" height="12" fill="#ff4500"/>
<rect x="984" y="235" width="3" height="4" fill="#ff4500"/>
<rect x="989" y="235" width="1" height="16" fill="#32cd32"/>
<rect x="988" y="236" width="3" height="10" fill="#32cd32"/>
<rect x="993" y="224" width="1" height="25" fill="#ff4500"/>
<rect x="992" y="228" width="3" height="18" fill="#ff4500"/>
<rect x="997" y="235" width="1" height="28" fill="#ff4500"/>
<rect x="996" y="237" width="3" height="26" fill="#ff4500"/>
<rect x="1001" y="223" width="1" height="18" fill="#ff4500"/>
<rect x="1000" y="224" width="3" height="14" fill="#ff4500"/>
<rect x="1005" y="225" width="1" height="22" fill="#32cd32"/>
<rect x="1004" y="225" width="3" height="21" fill="#32cd32"/>
<rect x="1009" y="231" width="1" height="18" fill="#ff4500"/>
<rect x="1008" y="242" width="3" height="4" fill="#ff4500"/>
<rect x="1013" y="267" width="1" height="25" fill="#32cd32"/>
<rect x="1012" y="271" width="3" height="13" fill="#32cd32"/>
<rect x="1017" y="281" width="1" height="21" fill="#32cd32"/>
<rect x="1016" y="282" width="3" height="18" fill="#32cd32"/>
<rect x="1021" y="294" width="1" height="14" fill="#32cd32"/>
<rect x="1020" y="294" width="3" height="9" fill="#32cd32"/>
<rect x="1025" y="298" width="1" height="11" fill="#ff4500"/>
<rect x="1024" y="299" width="3" height="4" fill="#ff4500"/>
<rect x="1029" y="292" width="1" height="8" fill="#32cd32"/>
<rect x="1028" y="293" width="3" height="6" fill="#32cd32"/>
<rect x="1033" y="293" width="1" height="13" fill="#32cd32"/>
<rect x="1032" y="297" width="3" height="2" fill="#32cd32"/>
<rect x="1037" y="294" width="1" height="10" fill="#32cd32"/>
<rect x="1036" y="299" width="3" height="4" fill="#32cd32"/>
<rect x="1041" y="300" width="1" height="10" fill="#32cd32"/>
<rect x="1040" y="300" width="3" height="9" fill="#32cd32"/>
<rect x="1045" y="313" width="1" height="23" fill="#32cd32"/>
<rect x="1044" y="325" width="3" height="10" fill="#32cd32"/>
<rect x="1049" y="331" width="1" height="12" fill="#32cd32"/>
<rect x="1048" y="333" width="3" height="4" fill="#32cd32"/>
<rect x="1053" y="332" width="1" height="15" fill="#ff4500"/>
<rect x="1052" y="334" width="3" height="4" fill="#ff4500"/>
<rect x="1057" y="325" width="1" height="14" fill="#32cd32"/>
<rect x="1056" y="334" width="3" height="2" fill="#32cd32"/>
<rect x="1061" y="324" width="1" height="9" fill="#ff4500"/>
<rect x="1060" y="329" width="3" height="3" fill="#ff4500"/>
<rect x="1065" y="320" width="1" height="14" fill="#32cd32"/>
<rect x="1064" y="329" width="3" height="2" fill="#32cd32"/>
<rect x="1069" y="327" width="1" height="13" fill="#32cd32"/>
<rect x="1068" y="329" width="3" height="10" fill="#32cd32"/>
<rect x="1073" y="320" width="1" height="21" fill="#ff4500"/>
<rect x="1072" y="321" width="3" height="19" fill="#ff4500"/>
<rect x="1077" y="305" width="1" height="11" fill="#32cd32"/>
<rect x="1076" y="307" width="3" height="9" fill="#32cd32"/>
<rect x="1081" y="314" width="1" height="11" fill="#32cd32"/>
<rect x="1080" y="315" width="3" height="8" fill="#32cd32"/>
<rect x="1085" y="312" width="1" height="13" fill="#000000"/><rect x="1084" y="320" width="3" height="1" fill="#000000"/>
<rect x="1089" y="303" width="1" height="22" fill="#ff4500"/>
<rect x="1088" y="315" width="3" height="10" fill="#ff4500"/>
<rect x="1093" y="263" width="1" height="47" fill="#ff4500"/>
<rect x="1092" y="265" width="3" height="40" fill="#ff4500"/>
<rect x="1097" y="249" width="1" height="20" fill="#ff4500"/>
<rect x="1096" y="251" width="3" height="16" fill="#ff4500"/>
<rect x="1101" y="250" width="1" height="17" fill="#32cd32"/>
<rect x="1100" y="254" width="3" height="10" fill="#32cd32"/>
<rect x="1105" y="258" width="1" height="10" fill="#32cd32"/>
<rect x="1104" y="262" width="3" height="6" fill="#32cd32"/>
<rect x="1109" y="272" width="1" height="27" fill="#32cd32"/>
<rect x="1108" y="273" width="3" height="25" fill="#32cd32"/>
<rect x="1113" y="293" width="1" height="13" fill="#ff4500"/>
<rect x="1112" y="294" width="3" height="3" fill="#ff4500"/>
<rect x="1117" y="290" width="1" height="16" fill="#32cd32"/>
<rect x="1116" y="296" width="3" height="7" fill="#32cd32"/>
<rect x="1121" y="302" width="1" height="17" fill="#32cd32"/>
<rect x="1120" y="302" width="3" height="16" fill="#32cd32"/>
<rect x="1125" y="309" width="1" height="31" fill="#32cd32"/>
<rect x="1124" y="322" width="3" height="12" fill="#32cd32"/>
<rect x="1129" y="308" width="1" height="26" fill="#ff4500"/>
<rect x="1128" y="319" width="3" height="15" fill="#ff4500"/>
<rect x="1133" y="311" width="1" height="16" fill="#ff4500"/>
<rect x="1132" y="316" width="3" height="6" fill="#ff4500"/>
<rect x="1137" y="312" width="1" height="12" fill="#ff4500"/>
<rect x="1136" y="315" width="3" height="2" fill="#ff4500"/>
<rect x="1141" y="307" width="1" height="28" fill="#ff4500"/>
<rect x="1140" y="328" width="3" height="6" fill="#ff4500"/>
<rect x="1145" y="326" width="1" height="38" fill="#32cd32"/>
<rect x="1144" y="329" width="3" height="28" fill="#32cd32"/>
<rect x="1149" y="349" width="1" height="16" fill="#32cd32"/>
<rect x="1148" y="355" width="3" height="10" fill="#32cd32"/>
<rect x="1153" y="337" width="1" height="30" fill="#ff4500"/>
<rect x="1152" y="353" width="3" height="12" fill="#ff4500"/>
<rect x="1157" y="345" width="1" height="16" fill="#32cd32"/>
<rect x="1156" y="349" width="3" height="11" fill="#32cd32"/>
<rect x="1161" y="348" width="1" height="17" fill="#ff4500"/>
<rect x="1160" y="354" width="3" height="5" fill="#ff4500"/>
<rect x="1165" y="353" width="1" height="14" fill="#32cd32"/>
<rect x="1164" y="353" width="3" height="8" fill="#32cd32"/>
<rect x="1169" y="363" width="1" height="26" fill="#32cd32"/>
<rect x="1168" y="363" width="3" height="25" fill="#32cd32"/>
<rect x="1173" y="375" width="1" height="29" fill="#32cd32"/>
<rect x="1172" y="385" width="3" height="19" fill="#32cd32"/>
<rect x="1177" y="392" width="1" height="24" fill="#32cd32"/>
<rect x="1176" y="402" width="3" height="14" fill="#32cd32"/>
<rect x="1181" y="394" width="1" height="32" fill="#ff4500"/>
<rect x="1180" y="400" width="3" height="14" fill="#ff4500"/>
<rect x="1185" y="397" width="1" height="10" fill="#32cd32"/>
<rect x="1184" y="400" width="3" height="2" fill="#32cd32"/>
<rect x="1189" y="406" width="1" height="42" fill="#32cd32"/>
<rect x="1188" y="406" width="3" height="36" fill="#32cd32"/>
<rect x="1193" y="432" width="1" height="26" fill="#ff4500"/>
<rect x="1192" y="440" width="3" height="2" fill="#ff4500"/>
<rect x="1197" y="437" width="1" height="19" fill="#32cd32"/>
<rect x="1196" y="440" width="3" height="12" fill="#32cd32"/>
<rect x="1201" y="436" width="1" height="28" fill="#ff4500"/>
<rect x="1200" y="437" width="3" height="15" fill="#ff4500"/>
<rect x="1205" y="428" width="1" height="30" fill="#ff4500"/>
<rect x="1204" y="435" width="3" height="16" fill="#ff4500"/>
<rect x="1209" y="431" width="1" height="16" fill="#32cd32"/>
<rect x="1208" y="436" width="3" height="2" fill="#32cd32"/>
<rect x="1213" y="430" width="1" height="16" fill="#32cd32"/>
<rect x="1212" y="435" width="3" height="10" fill="#32cd32"/>
<rect x="1217" y="427" width="1" height="18" fill="#ff4500"/>
<rect x="1216" y="434" width="3" height="11" fill="#ff4500"/>
<rect x="1221" y="461" width="1" height="34" fill="#32cd32"/>
<rect x="1220" y="461" width="3" height="33" fill="#32cd32"/>
<rect x="1225" y="491" width="1" height="17" fill="#32cd32"/>
<rect x="1224" y="492" width="3" height="14" fill="#32cd32"/>
<rect x="1229" y="467" width="1" height="39" fill="#ff4500"/>
<rect x="1228" y="467" width="3" height="39" fill="#ff4500"/>
<rect x="1233" y="435" width="1" height="35" fill="#ff4500"/>
<rect x="1232" y="450" width="3" height="19" fill="#ff4500"/>
<rect x="1237" y="440" width="1" height="20" fill="#32cd32"/>
<rect x="1236" y="451" width="3" height="7" fill="#32cd32"/>
<rect x="1241" y="450" width="1" height="14" fill="#32cd32"/>
<rect x="1240" y="456" width="3" height="6" fill="#32cd32"/>
<rect x="1245" y="459" width="1" height="20" fill="#32cd32"/>
<rect x="1244" y="459" width="3" height="11" fill="#32cd32"/>
<rect x="1249" y="450" width="1" height="20" fill="#ff4500"/>
<rect x="1248" y="462" width="3" height="8" fill="#ff4500"/>
<rect x="1253" y="424" width="1" height="23" fill="#32cd32"/>
<rect x="1252" y="428" width="3" height="14" fill="#32cd32"/>
<rect x="1257" y="434" width="1" height="19" fill="#32cd32"/>
<rect x="1256" y="440" width="3" height="5" fill="#32cd32"/>
<rect x="1261" y="442" width="1" height="28" fill="#32cd32"/>
<rect x="1260" y="443" width="3" height="26" fill="#32cd32"/>
<rect x="1265" y="456" width="1" height="22" fill="#32cd32"/>
<rect x="1264" y="468" width="3" height="4" fill="#32cd32"/>
<rect x="1269" y="442" width="1" height="33" fill="#ff4500"/>
<rect x="1268" y="443" width="3" height="23" fill="#ff4500"/>
<rect x="1273" y="436" width="1" height="32" fill="#32cd32"/>
<rect x="1272" y="443" width="3" height="20" fill="#32cd32"/>
<rect x="1277" y="447" width="1" height="17" fill="#ff4500"/>
<rect x="1276" y="452" width="3" height="12" fill="#ff4500"/>
<rect x="1281" y="450" width="1" height="24" fill="#32cd32"/>
<rect x="1280" y="452" width="3" height="21" fill="#32cd32"/>
<rect x="1284" y="471" width="3" height="1" fill="#000"/>
<rect x="1288" y="471" width="3" height="1" fill="#32cd32"/>
</g>
<g fill="none" stroke-width="1" shape-rendering="crispEdges" stroke-linejoin="round">
<polyline points="5.4,151.4 9.4,149.2 13.5,147.9 21.0,147.9 25.0,150.1 32.4,157.5 41.0,166.1 49.5,169.8 59.4,175.9 71.7,185.7 82.8,195.7 91.3,201.7 101.5,209.4 108.3,212.8 118.5,220.5 125.4,226.4 132.2,236.6 137.3,243.5 144.1,250.3 150.9,257.1 157.8,263.9 166.5,268.5 177.5,272.8 188.3,277.2 199.2,280.5 207.9,279.8 214.5,275.0 227.5,259.5 240.5,247.5 248.7,239.7 261.0,211.0 271.2,186.5 281.5,168.1 288.6,153.7 295.8,143.5 306.0,133.3 316.2,117.9 323.4,109.1 330.5,108.7 335.7,110.7 340.8,117.9 349.0,126.1 357.2,134.3 363.3,143.5 370.5,155.8 375.0,163.5 380.1,176.4 388.8,202.5 397.5,226.5 406.3,252.8 412.2,270.5 424.5,290.2 434.3,307.4 444.2,324.5 450.5,339.5 459.2,353.8 468.0,360.5 481.1,365.9 489.8,358.2 494.5,350.5 500.7,341.5 505.5,337.2 513.7,329.4 521.9,321.2 528.5,315.5 534.9,313.0 541.5,308.9 548.0,300.8 554.5,291.8 561.1,286.9 566.0,287.7 570.9,295.0 575.5,304.8 578.0,314.0 586.7,326.0 597.6,333.7 606.4,340.2 615.1,337.0 626.0,334.8 633.5,331.2 642.3,320.3 653.3,305.0 664.2,287.5 675.1,272.2 686.0,261.3 694.8,253.7 703.5,251.5 709.2,252.8 718.0,258.2 728.9,271.3 739.8,276.8 750.7,278.3 759.5,279.6 770.5,281.1 783.5,282.2 792.1,277.9 800.8,269.1 807.3,262.5 813.9,256.0 820.5,250.5 829.2,248.4 840.1,249.9 851.0,250.5 862.0,252.8 868.5,257.1 874.9,260.9 883.6,272.9 892.3,286.0 901.1,300.2 909.8,310.1 918.5,316.6 927.3,321.0 936.0,325.3 944.8,329.7 953.5,333.0 959.9,333.7 968.5,322.8 977.3,314.1 986.1,302.1 994.8,290.1 1001.4,281.3 1007.9,273.7 1016.7,270.0 1025.4,268.2 1034.1,264.3 1040.7,262.8 1046.0,262.8 1053.5,274.8 1062.3,283.5 1068.9,291.2 1076.5,298.8 1084.2,305.4 1091.8,313.0 1097.3,312.0 1103.8,308.7 1114.8,308.7 1121.5,308.7 1125.8,310.8 1129.5,309.3 1135.5,308.1 1145.5,308.7 1150.1,311.5 1163.5,315.1 1172.2,322.5 1179.5,334.8 1187.0,349.5 1194.3,361.8 1201.7,374.1 1209.1,385.2 1214.2,391.1 1220.8,404.2 1227.3,415.1 1236.1,426.0 1244.8,436.9 1251.4,443.1 1257.8,445.9 1260.4,448.1 1263.8,450.8 1269.0,454.4 1272.8,454.9 1279.5,456.8 1284.0,458.1 1289.3,459.9" stroke="#ff4500"/>
</g>
<path d="M1290.5,37 L1300.5,37 L1295.5,42.5 Z" fill="#a8a8a8"/>
<g shape-rendering="crispEdges" fill="#000">
<rect x="4" y="36" width="1617" height="1"/><rect x="4" y="36" width="1" height="484"/><rect x="4" y="519" width="1617" height="1"/><rect x="1620" y="36" width="1" height="484"/>
<rect x="4" y="521" width="1617" height="1"/><rect x="4" y="521" width="1" height="61"/><rect x="4" y="581" width="1617" height="1"/><rect x="1620" y="521" width="1" height="61"/>
<rect x="4" y="583" width="1617" height="1"/><rect x="4" y="583" width="1" height="126"/><rect x="4" y="708" width="1617" height="1"/><rect x="1620" y="583" width="1" height="126"/>
</g>
<g shape-rendering="crispEdges" fill="#000">
<rect x="1621" y="59" width="2" height="1"/>
<rect x="1621" y="108" width="2" height="1"/>
<rect x="1621" y="157" width="2" height="1"/>
<rect x="1621" y="206" width="2" height="1"/>
<rect x="1621" y="255" width="2" height="1"/>
<rect x="1621" y="304" width="2" height="1"/>
<rect x="1621" y="353" width="2" height="1"/>
<rect x="1621" y="402" width="2" height="1"/>
<rect x="1621" y="451" width="2" height="1"/>
<rect x="1621" y="500" width="2" height="1"/>
</g>
<text class="k" x="1627" y="63.8" font-size="12.4" fill="#000">3460.0</text>
<text class="k" x="1627" y="112.8" font-size="12.4" fill="#000">3404.0</text>
<text class="k" x="1627" y="161.4" font-size="12.4" fill="#000">3349.0</text>
<text class="k" x="1627" y="210.8" font-size="12.4" fill="#000">3293.0</text>
<text class="k" x="1627" y="259.4" font-size="12.4" fill="#000">3238.0</text>
<text class="k" x="1627" y="308.7" font-size="12.4" fill="#000">3182.0</text>
<text class="k" x="1627" y="357.4" font-size="12.4" fill="#000">3127.0</text>
<text class="k" x="1627" y="406.7" font-size="12.4" fill="#000">3072.0</text>
<text class="k" x="1627" y="455.6" font-size="12.4" fill="#000">3016.0</text>
<text class="k" x="1627" y="504.5" font-size="12.4" fill="#000">2961.0</text>
<rect x="1622" y="137" width="49" height="14" fill="#ff0000" shape-rendering="crispEdges"/>
<text x="1627" y="148.4" font-size="12.4" fill="#fff">3365.0</text>
<rect x="1622" y="294" width="49" height="14" fill="#ff0000" shape-rendering="crispEdges"/>
<text x="1627" y="305.4" font-size="12.4" fill="#fff">3187.5</text>
<rect x="1622" y="350" width="49" height="14" fill="#ff0000" shape-rendering="crispEdges"/>
<text x="1627" y="361.4" font-size="12.4" fill="#fff">3123.5</text>
<rect x="1622" y="408" width="49" height="14" fill="#00ff7f" shape-rendering="crispEdges"/>
<text x="1627" y="419.4" font-size="12.4" fill="#fff">3058.6</text>
<rect x="1622" y="464" width="49" height="14" fill="#000000" shape-rendering="crispEdges"/>
<text x="1627" y="475.4" font-size="12.4" fill="#fff">2994.0</text>
<rect x="1622" y="458" width="49" height="14" fill="#0000ff" shape-rendering="crispEdges"/>
<text x="1627" y="469.4" font-size="12.4" fill="#fff">3001.6</text>
<text x="1186.7" y="240.6" font-size="33.6" fill="#ff0000" textLength="165" lengthAdjust="spacing" style="font-family:'Liberation Sans','Noto Sans CJK SC',sans-serif">多空转折点</text>
<text x="1353.2" y="239.3" font-size="33.8" fill="#ff0000" textLength="75.5" lengthAdjust="spacingAndGlyphs" style="font-family:'Liberation Sans','Noto Sans CJK SC',sans-serif">3958</text>
<path d="M8,49 L17,49 L12.5,44 Z" fill="#000"/>
<text class="k" x="23.5" y="51" font-size="12.2" fill="#000" textLength="77.5" lengthAdjust="spacingAndGlyphs">CHINA300-,H1</text>
<text class="k" x="110.5" y="51" font-size="12.4" fill="#000">2994.1</text>
<text class="k" x="153" y="51" font-size="12.4" fill="#000">2994.1</text>
<text class="k" x="196" y="51" font-size="12.4" fill="#000">2994.0</text>
<text class="k" x="239" y="51" font-size="12.4" fill="#000">2994.0</text>
<g shape-rendering="crispEdges">
<rect x="8" y="59" width="285" height="78" fill="#ffffff"/>
<path d="M8,59 H76 V86 H149 V135 H8 Z" fill="url(#gBox)"/>
<rect x="8" y="59" width="68" height="27" fill="url(#gTab)"/>
<path d="M8.5,135 V59.5 H75.5 V86.5 H148.5 V134.5 H8.5" fill="none" stroke="#b40000" stroke-width="1"/>
<rect x="12" y="85" width="61" height="1" fill="#9a0000"/><rect x="12" y="86" width="61" height="1" fill="#f26a6a"/>
<path d="M151,86 H223 V59 H291 V135 H151 Z" fill="url(#gBox)"/>
<rect x="223" y="59" width="68" height="27" fill="url(#gTab)"/>
<path d="M151.5,134.5 V86.5 H223.5 V59.5 H290.5 V134.5 Z" fill="none" stroke="#b40000" stroke-width="1"/>
<rect x="227" y="85" width="61" height="1" fill="#9a0000"/><rect x="227" y="86" width="61" height="1" fill="#f26a6a"/>
<rect x="78.5" y="59.5" width="143" height="24" fill="#ffffff" stroke="#a4a8b0"/>
<rect x="80" y="61" width="21" height="21" fill="url(#gBtn)"/>
<rect x="102" y="60" width="1" height="23" fill="#a4a8b0"/>
<rect x="197" y="61" width="22" height="21" fill="url(#gBtn)"/>
<rect x="196" y="60" width="1" height="23" fill="#a4a8b0"/>
</g>
<path d="M86.5,70 L94.5,70 L90.5,74.5 Z" fill="url(#gArr)"/>
<path d="M204,73.5 L212,73.5 L208,69 Z" fill="url(#gArr)"/>
<text x="193" y="77.2" font-size="15.6" fill="#000" text-anchor="end">1.00</text>
<text x="25.2" y="78.2" font-size="15.4" fill="#fff" textLength="33" lengthAdjust="spacingAndGlyphs">SELL</text>
<text x="241.6" y="78.2" font-size="15.4" fill="#fff" textLength="30.2" lengthAdjust="spacingAndGlyphs">BUY</text>
<text x="37.6" y="124.3" font-size="16.6" font-weight="bold" fill="#fff" textLength="37" lengthAdjust="spacingAndGlyphs">2992</text>
<rect x="80" y="119" width="5" height="5" rx="1.5" fill="#fff"/>
<text transform="translate(88.6,124.3) scale(0.835,1)" x="0" y="0" font-size="44.5" fill="#fff" stroke="url(#gBoxU)" stroke-width="0.6">5</text>
<text x="179.6" y="124.3" font-size="16.6" font-weight="bold" fill="#fff" textLength="37" lengthAdjust="spacingAndGlyphs">2998</text>
<rect x="222.5" y="119" width="5" height="5" rx="1.5" fill="#fff"/>
<text transform="translate(230.1,124.3) scale(0.835,1)" x="0" y="0" font-size="44.5" fill="#fff" stroke="url(#gBoxU)" stroke-width="0.6">3</text>
<g shape-rendering="crispEdges" fill="#c0c0c0">
<rect x="5" y="548" width="1" height="1"/>
<rect x="9" y="548" width="1" height="1"/>
<rect x="13" y="548" width="1" height="1"/>
<rect x="17" y="548" width="1" height="1"/>
<rect x="21" y="548" width="1" height="3"/>
<rect x="25" y="548" width="1" height="5"/>
<rect x="29" y="548" width="1" height="5"/>
<rect x="33" y="548" width="1" height="5"/>
<rect x="37" y="548" width="1" height="5"/>
<rect x="41" y="548" width="1" height="5"/>
<rect x="45" y="548" width="1" height="5"/>
<rect x="49" y="548" width="1" height="5"/>
<rect x="53" y="548" width="1" height="5"/>
<rect x="57" y="548" width="1" height="5"/>
<rect x="61" y="548" width="1" height="5"/>
<rect x="65" y="548" width="1" height="5"/>
<rect x="69" y="548" width="1" height="5"/>
<rect x="73" y="548" width="1" height="5"/>
<rect x="77" y="548" width="1" height="8"/>
<rect x="81" y="548" width="1" height="9"/>
<rect x="85" y="548" width="1" height="9"/>
<rect x="89" y="548" width="1" height="10"/>
<rect x="93" y="548" width="1" height="10"/>
<rect x="97" y="548" width="1" height="10"/>
<rect x="101" y="548" width="1" height="11"/>
<rect x="105" y="548" width="1" height="11"/>
<rect x="109" y="548" width="1" height="12"/>
<rect x="113" y="548" width="1" height="12"/>
<rect x="117" y="548" width="1" height="12"/>
<rect x="121" y="548" width="1" height="14"/>
<rect x="125" y="548" width="1" height="14"/>
<rect x="129" y="548" width="1" height="14"/>
<rect x="133" y="548" width="1" height="14"/>
<rect x="137" y="548" width="1" height="14"/>
<rect x="141" y="548" width="1" height="14"/>
<rect x="145" y="548" width="1" height="14"/>
<rect x="149" y="548" width="1" height="14"/>
<rect x="153" y="548" width="1" height="14"/>
<rect x="157" y="548" width="1" height="14"/>
<rect x="161" y="548" width="1" height="14"/>
<rect x="165" y="548" width="1" height="14"/>
<rect x="169" y="548" width="1" height="13"/>
<rect x="173" y="548" width="1" height="11"/>
<rect x="177" y="548" width="1" height="11"/>
<rect x="181" y="548" width="1" height="10"/>
<rect x="185" y="548" width="1" height="10"/>
<rect x="189" y="548" width="1" height="8"/>
<rect x="193" y="548" width="1" height="8"/>
<rect x="197" y="548" width="1" height="8"/>
<rect x="201" y="548" width="1" height="8"/>
<rect x="205" y="548" width="1" height="6"/>
<rect x="209" y="548" width="1" height="5"/>
<rect x="213" y="548" width="1" height="3"/>
<rect x="217" y="548" width="1" height="1"/>
<rect x="221" y="545" width="1" height="4"/>
<rect x="225" y="543" width="1" height="6"/>
<rect x="229" y="542" width="1" height="7"/>
<rect x="233" y="540" width="1" height="9"/>
<rect x="237" y="539" width="1" height="10"/>
<rect x="241" y="538" width="1" height="11"/>
<rect x="245" y="538" width="1" height="11"/>
<rect x="249" y="536" width="1" height="13"/>
<rect x="253" y="533" width="1" height="16"/>
<rect x="257" y="530" width="1" height="19"/>
<rect x="261" y="529" width="1" height="20"/>
<rect x="265" y="529" width="1" height="20"/>
<rect x="269" y="529" width="1" height="20"/>
<rect x="273" y="529" width="1" height="20"/>
<rect x="277" y="528" width="1" height="21"/>
<rect x="281" y="527" width="1" height="22"/>
<rect x="285" y="526" width="1" height="23"/>
<rect x="289" y="527" width="1" height="22"/>
<rect x="293" y="528" width="1" height="21"/>
<rect x="297" y="528" width="1" height="21"/>
<rect x="301" y="529" width="1" height="20"/>
<rect x="305" y="530" width="1" height="19"/>
<rect x="309" y="530" width="1" height="19"/>
<rect x="313" y="530" width="1" height="19"/>
<rect x="317" y="530" width="1" height="19"/>
<rect x="321" y="531" width="1" height="18"/>
<rect x="325" y="535" width="1" height="14"/>
<rect x="329" y="539" width="1" height="10"/>
<rect x="333" y="543" width="1" height="6"/>
<rect x="337" y="547" width="1" height="2"/>
<rect x="341" y="548" width="1" height="1"/>
<rect x="345" y="548" width="1" height="3"/>
<rect x="349" y="548" width="1" height="5"/>
<rect x="353" y="548" width="1" height="7"/>
<rect x="357" y="548" width="1" height="8"/>
<rect x="361" y="548" width="1" height="10"/>
<rect x="365" y="548" width="1" height="10"/>
<rect x="369" y="548" width="1" height="11"/>
<rect x="373" y="548" width="1" height="14"/>
<rect x="377" y="548" width="1" height="19"/>
<rect x="381" y="548" width="1" height="22"/>
<rect x="385" y="548" width="1" height="27"/>
<rect x="389" y="548" width="1" height="29"/>
<rect x="393" y="548" width="1" height="31"/>
<rect x="397" y="548" width="1" height="30"/>
<rect x="401" y="548" width="1" height="29"/>
<rect x="405" y="548" width="1" height="28"/>
<rect x="409" y="548" width="1" height="27"/>
<rect x="413" y="548" width="1" height="27"/>
<rect x="417" y="548" width="1" height="27"/>
<rect x="421" y="548" width="1" height="27"/>
<rect x="425" y="548" width="1" height="26"/>
<rect x="429" y="548" width="1" height="26"/>
<rect x="433" y="548" width="1" height="25"/>
<rect x="437" y="548" width="1" height="25"/>
<rect x="441" y="548" width="1" height="24"/>
<rect x="445" y="548" width="1" height="24"/>
<rect x="449" y="548" width="1" height="23"/>
<rect x="453" y="548" width="1" height="23"/>
<rect x="457" y="548" width="1" height="23"/>
<rect x="461" y="548" width="1" height="23"/>
<rect x="465" y="548" width="1" height="23"/>
<rect x="469" y="548" width="1" height="24"/>
<rect x="473" y="548" width="1" height="24"/>
<rect x="477" y="548" width="1" height="21"/>
<rect x="481" y="548" width="1" height="18"/>
<rect x="485" y="548" width="1" height="12"/>
<rect x="489" y="548" width="1" height="5"/>
<rect x="493" y="547" width="1" height="2"/>
<rect x="497" y="543" width="1" height="6"/>
<rect x="501" y="540" width="1" height="9"/>
<rect x="505" y="539" width="1" height="10"/>
<rect x="509" y="540" width="1" height="9"/>
<rect x="513" y="541" width="1" height="8"/>
<rect x="517" y="543" width="1" height="6"/>
<rect x="521" y="542" width="1" height="7"/>
<rect x="525" y="542" width="1" height="7"/>
<rect x="529" y="543" width="1" height="6"/>
<rect x="533" y="546" width="1" height="3"/>
<rect x="537" y="548" width="1" height="1"/>
<rect x="541" y="548" width="1" height="1"/>
<rect x="545" y="548" width="1" height="1"/>
<rect x="549" y="548" width="1" height="1"/>
<rect x="553" y="548" width="1" height="1"/>
<rect x="557" y="548" width="1" height="1"/>
<rect x="561" y="548" width="1" height="1"/>
<rect x="565" y="548" width="1" height="4"/>
<rect x="569" y="548" width="1" height="6"/>
<rect x="573" y="548" width="1" height="8"/>
<rect x="577" y="548" width="1" height="12"/>
<rect x="581" y="548" width="1" height="12"/>
<rect x="585" y="548" width="1" height="12"/>
<rect x="589" y="548" width="1" height="12"/>
<rect x="593" y="548" width="1" height="10"/>
<rect x="597" y="548" width="1" height="9"/>
<rect x="601" y="548" width="1" height="8"/>
<rect x="605" y="548" width="1" height="7"/>
<rect x="609" y="548" width="1" height="6"/>
<rect x="613" y="548" width="1" height="3"/>
<rect x="617" y="548" width="1" height="1"/>
<rect x="621" y="546" width="1" height="3"/>
<rect x="625" y="546" width="1" height="3"/>
<rect x="629" y="543" width="1" height="6"/>
<rect x="633" y="541" width="1" height="8"/>
<rect x="637" y="539" width="1" height="10"/>
<rect x="641" y="536" width="1" height="13"/>
<rect x="645" y="534" width="1" height="15"/>
<rect x="649" y="534" width="1" height="15"/>
<rect x="653" y="534" width="1" height="15"/>
<rect x="657" y="535" width="1" height="14"/>
<rect x="661" y="536" width="1" height="13"/>
<rect x="665" y="537" width="1" height="12"/>
<rect x="669" y="538" width="1" height="11"/>
<rect x="673" y="539" width="1" height="10"/>
<rect x="677" y="539" width="1" height="10"/>
<rect x="681" y="539" width="1" height="10"/>
<rect x="685" y="540" width="1" height="9"/>
<rect x="689" y="542" width="1" height="7"/>
<rect x="693" y="542" width="1" height="7"/>
<rect x="697" y="542" width="1" height="7"/>
<rect x="701" y="543" width="1" height="6"/>
<rect x="705" y="544" width="1" height="5"/>
<rect x="709" y="547" width="1" height="2"/>
<rect x="713" y="548" width="1" height="1"/>
<rect x="717" y="548" width="1" height="1"/>
<rect x="721" y="548" width="1" height="3"/>
<rect x="725" y="548" width="1" height="5"/>
<rect x="729" y="548" width="1" height="5"/>
<rect x="733" y="548" width="1" height="5"/>
<rect x="737" y="548" width="1" height="4"/>
<rect x="741" y="548" width="1" height="4"/>
<rect x="745" y="548" width="1" height="3"/>
<rect x="749" y="548" width="1" height="2"/>
<rect x="753" y="548" width="1" height="1"/>
<rect x="757" y="548" width="1" height="1"/>
<rect x="761" y="548" width="1" height="1"/>
<rect x="765" y="548" width="1" height="1"/>
<rect x="769" y="548" width="1" height="1"/>
<rect x="773" y="548" width="1" height="1"/>
<rect x="777" y="548" width="1" height="1"/>
<rect x="781" y="547" width="1" height="2"/>
<rect x="785" y="547" width="1" height="2"/>
<rect x="789" y="546" width="1" height="3"/>
<rect x="793" y="545" width="1" height="4"/>
<rect x="797" y="543" width="1" height="6"/>
<rect x="801" y="542" width="1" height="7"/>
<rect x="805" y="541" width="1" height="8"/>
<rect x="809" y="541" width="1" height="8"/>
<rect x="813" y="541" width="1" height="8"/>
<rect x="817" y="540" width="1" height="9"/>
<rect x="821" y="542" width="1" height="7"/>
<rect x="825" y="543" width="1" height="6"/>
<rect x="829" y="545" width="1" height="4"/>
<rect x="833" y="546" width="1" height="3"/>
<rect x="837" y="548" width="1" height="1"/>
<rect x="841" y="548" width="1" height="1"/>
<rect x="845" y="548" width="1" height="1"/>
<rect x="849" y="548" width="1" height="2"/>
<rect x="853" y="548" width="1" height="3"/>
<rect x="857" y="548" width="1" height="4"/>
<rect x="861" y="548" width="1" height="4"/>
<rect x="865" y="548" width="1" height="5"/>
<rect x="869" y="548" width="1" height="5"/>
<rect x="873" y="548" width="1" height="7"/>
<rect x="877" y="548" width="1" height="10"/>
<rect x="881" y="548" width="1" height="12"/>
<rect x="885" y="548" width="1" height="12"/>
<rect x="889" y="548" width="1" height="13"/>
<rect x="893" y="548" width="1" height="13"/>
<rect x="897" y="548" width="1" height="14"/>
<rect x="901" y="548" width="1" height="13"/>
<rect x="905" y="548" width="1" height="13"/>
<rect x="909" y="548" width="1" height="13"/>
<rect x="913" y="548" width="1" height="13"/>
<rect x="917" y="548" width="1" height="14"/>
<rect x="921" y="548" width="1" height="12"/>
<rect x="925" y="548" width="1" height="11"/>
<rect x="929" y="548" width="1" height="9"/>
<rect x="933" y="548" width="1" height="8"/>
<rect x="937" y="548" width="1" height="6"/>
<rect x="941" y="548" width="1" height="6"/>
<rect x="945" y="548" width="1" height="6"/>
<rect x="949" y="548" width="1" height="6"/>
<rect x="953" y="548" width="1" height="6"/>
<rect x="957" y="548" width="1" height="6"/>
<rect x="961" y="548" width="1" height="6"/>
<rect x="965" y="548" width="1" height="1"/>
<rect x="969" y="545" width="1" height="4"/>
<rect x="973" y="543" width="1" height="6"/>
<rect x="977" y="540" width="1" height="9"/>
<rect x="981" y="539" width="1" height="10"/>
<rect x="985" y="538" width="1" height="11"/>
<rect x="989" y="538" width="1" height="11"/>
<rect x="993" y="537" width="1" height="12"/>
<rect x="997" y="537" width="1" height="12"/>
<rect x="1001" y="537" width="1" height="12"/>
<rect x="1005" y="537" width="1" height="12"/>
<rect x="1009" y="537" width="1" height="12"/>
<rect x="1013" y="539" width="1" height="10"/>
<rect x="1017" y="542" width="1" height="7"/>
<rect x="1021" y="545" width="1" height="4"/>
<rect x="1025" y="547" width="1" height="2"/>
<rect x="1029" y="548" width="1" height="1"/>
<rect x="1033" y="548" width="1" height="1"/>
<rect x="1037" y="548" width="1" height="1"/>
<rect x="1041" y="548" width="1" height="2"/>
<rect x="1045" y="548" width="1" height="4"/>
<rect x="1049" y="548" width="1" height="6"/>
<rect x="1053" y="548" width="1" height="7"/>
<rect x="1057" y="548" width="1" height="9"/>
<rect x="1061" y="548" width="1" height="9"/>
<rect x="1065" y="548" width="1" height="9"/>
<rect x="1069" y="548" width="1" height="9"/>
<rect x="1073" y="548" width="1" height="9"/>
<rect x="1077" y="548" width="1" height="8"/>
<rect x="1081" y="548" width="1" height="8"/>
<rect x="1085" y="548" width="1" height="8"/>
<rect x="1089" y="548" width="1" height="7"/>
<rect x="1093" y="548" width="1" height="5"/>
<rect x="1097" y="548" width="1" height="2"/>
<rect x="1101" y="548" width="1" height="2"/>
<rect x="1105" y="547" width="1" height="2"/>
<rect x="1109" y="547" width="1" height="2"/>
<rect x="1113" y="547" width="1" height="2"/>
<rect x="1117" y="548" width="1" height="1"/>
<rect x="1121" y="548" width="1" height="1"/>
<rect x="1125" y="548" width="1" height="1"/>
<rect x="1129" y="548" width="1" height="1"/>
<rect x="1133" y="548" width="1" height="1"/>
<rect x="1137" y="548" width="1" height="3"/>
<rect x="1141" y="548" width="1" height="3"/>
<rect x="1145" y="548" width="1" height="5"/>
<rect x="1149" y="548" width="1" height="7"/>
<rect x="1153" y="548" width="1" height="7"/>
<rect x="1157" y="548" width="1" height="9"/>
<rect x="1161" y="548" width="1" height="10"/>
<rect x="1165" y="548" width="1" height="10"/>
<rect x="1169" y="548" width="1" height="10"/>
<rect x="1173" y="548" width="1" height="12"/>
<rect x="1177" y="548" width="1" height="14"/>
<rect x="1181" y="548" width="1" height="15"/>
<rect x="1185" y="548" width="1" height="16"/>
<rect x="1189" y="548" width="1" height="18"/>
<rect x="1193" y="548" width="1" height="19"/>
<rect x="1197" y="548" width="1" height="21"/>
<rect x="1201" y="548" width="1" height="21"/>
<rect x="1205" y="548" width="1" height="21"/>
<rect x="1209" y="548" width="1" height="21"/>
<rect x="1213" y="548" width="1" height="20"/>
<rect x="1217" y="548" width="1" height="20"/>
<rect x="1221" y="548" width="1" height="21"/>
<rect x="1225" y="548" width="1" height="22"/>
<rect x="1229" y="548" width="1" height="23"/>
<rect x="1233" y="548" width="1" height="21"/>
<rect x="1237" y="548" width="1" height="20"/>
<rect x="1241" y="548" width="1" height="19"/>
<rect x="1245" y="548" width="1" height="19"/>
<rect x="1249" y="548" width="1" height="18"/>
<rect x="1253" y="548" width="1" height="16"/>
<rect x="1257" y="548" width="1" height="14"/>
<rect x="1261" y="548" width="1" height="14"/>
<rect x="1265" y="548" width="1" height="14"/>
<rect x="1269" y="548" width="1" height="13"/>
<rect x="1273" y="548" width="1" height="12"/>
<rect x="1277" y="548" width="1" height="11"/>
<rect x="1281" y="548" width="1" height="11"/>
<rect x="1285" y="548" width="1" height="11"/>
<rect x="1289" y="548" width="1" height="11"/>
</g>
<polyline points="5.5,539.5 12.5,541.5 18.5,543.0 24.5,545.5 30.5,548.0 36.5,551.0 42.5,552.0 49.5,552.9 60.5,552.9 70.5,552.0 80.5,552.9 85.5,553.9 90.5,554.5 96.5,555.9 102.5,557.5 108.5,557.9 114.5,558.5 120.5,559.8 126.5,561.1 133.5,561.1 140.5,561.8 168.5,561.8 172.5,560.5 176.5,559.8 184.5,559.2 192.5,557.9 198.5,557.2 204.5,556.5 210.5,556.1 216.5,555.1 222.5,553.3 228.5,550.7 235.5,548.0 241.5,544.8 248.0,541.9 254.0,539.0 260.0,536.9 266.0,534.9 270.5,534.0 277.5,531.2 283.5,528.8 289.5,527.7 312.5,527.7 318.5,528.5 324.5,530.0 330.5,532.2 337.5,534.5 343.5,537.5 349.5,541.1 355.5,545.0 361.5,548.7 367.5,551.7 373.5,555.0 379.5,558.2 385.5,561.5 391.5,565.5 397.5,568.8 403.5,571.9 409.5,574.5 416.5,575.8 421.5,576.5 428.5,576.0 437.5,576.0 445.5,575.0 452.5,573.5 460.5,572.5 468.5,571.9 474.5,571.3 480.5,571.0 487.5,568.5 493.5,565.5 499.5,560.5 505.5,555.5 511.5,550.5 517.5,546.0 523.5,542.5 528.5,541.0 535.5,541.9 541.5,543.5 547.5,545.0 553.5,546.7 559.5,548.0 565.5,549.7 571.5,552.0 577.5,553.9 583.5,555.3 589.5,556.5 595.5,557.2 601.5,558.7 607.5,557.9 613.5,556.9 620.5,555.9 626.5,553.9 632.5,551.0 636.5,548.0 642.5,543.5 648.5,540.5 654.5,539.0 660.5,537.0 666.5,535.9 679.5,535.9 685.5,536.9 691.5,538.0 697.5,540.0 703.5,541.0 709.5,542.4 715.5,542.8 721.5,545.0 727.5,546.7 733.5,548.4 739.5,549.8 745.5,551.0 752.5,551.9 758.5,551.9 764.5,550.5 770.5,550.0 776.5,548.9 782.5,548.0 788.5,547.6 794.5,547.1 800.5,545.7 806.5,544.8 812.5,544.1 818.5,543.5 824.5,542.3 836.5,542.3 842.5,543.7 848.5,545.0 852.5,546.5 859.5,548.0 865.5,549.5 871.5,550.9 877.5,552.5 883.5,554.0 889.5,555.5 895.5,557.0 900.5,558.5 906.5,560.1 912.5,561.0 918.5,561.8 924.5,561.1 930.5,560.8 936.5,559.8 942.5,558.0 948.5,556.8 954.5,555.7 960.5,555.0 966.5,552.7 972.5,550.5 979.5,549.0 985.5,546.1 991.5,542.9 997.5,540.1 1003.5,537.7 1015.5,537.7 1021.5,538.7 1027.5,539.8 1033.5,541.7 1039.5,544.0 1045.5,546.8 1051.5,549.0 1057.5,551.5 1062.5,552.9 1068.5,554.0 1074.5,555.7 1080.5,556.5 1086.5,557.2 1092.5,555.9 1098.5,554.5 1104.5,552.9 1110.5,551.3 1116.5,549.8 1122.5,549.1 1128.5,548.7 1134.5,549.0 1140.5,549.5 1146.5,550.1 1152.5,551.3 1158.5,552.9 1164.5,554.3 1170.5,555.9 1176.5,557.5 1182.5,558.8 1188.5,560.3 1194.5,561.8 1200.5,563.7 1206.5,565.7 1212.5,566.7 1218.5,567.7 1224.5,569.2 1243.5,569.2 1249.5,568.1 1255.5,567.7 1260.5,566.0 1266.5,565.0 1272.5,563.0 1278.5,562.0 1285.5,561.0" fill="none" stroke="#ff0000" stroke-width="1" stroke-dasharray="3,3" shape-rendering="crispEdges"/>
<text class="k" x="9" y="536.4" font-size="12.4" fill="#000">MACD(12,26,9) -18.49 -21.40</text>
<g fill="#000" shape-rendering="crispEdges"><rect x="1621" y="523" width="2" height="1"/><rect x="1621" y="548" width="2" height="1"/><rect x="1621" y="580" width="2" height="1"/><rect x="1621" y="585" width="2" height="1"/><rect x="1621" y="707" width="2" height="1"/></g>
<text class="k" x="1624" y="535.1" font-size="12.4" fill="#000">51</text>
<text class="k" x="1624" y="553.0" font-size="12.4" fill="#000">0.00</text>
<text class="k" x="1624" y="577.7" font-size="12.4" fill="#000">-63.44</text>
<g shape-rendering="crispEdges">
<line x1="6" y1="621.5" x2="1620" y2="621.5" stroke="#c0c0c0" stroke-dasharray="3,3"/>
<line x1="6" y1="671.5" x2="1620" y2="671.5" stroke="#c0c0c0" stroke-dasharray="3,3"/>
</g>
<polyline points="5.7,659.9 9.7,649.4 13.6,652.0 17.5,652.0 21.5,660.0 29.3,660.0 33.3,652.0 42.4,652.0 46.4,637.0 50.3,637.7 58.2,652.0 62.1,653.4 66.0,660.0 69.9,656.0 73.9,656.5 77.8,662.5 81.7,665.2 85.7,649.4 89.6,660.0 93.5,660.0 97.5,652.9 101.4,661.2 105.3,657.3 109.3,658.0 117.1,661.2 121.0,654.7 125.0,658.0 136.8,661.2 140.7,660.0 145.9,663.3 148.5,661.2 152.5,662.5 156.4,661.8 161.7,650.2 166.9,650.8 172.1,648.7 177.4,648.7 181.3,657.3 185.2,660.0 189.2,658.0 193.1,660.0 197.0,654.7 202.3,657.3 207.5,640.3 212.8,628.5 216.7,626.6 221.9,621.4 225.9,628.5 231.1,627.2 237.7,629.0 245.5,627.2 249.5,615.4 257.3,609.3 262.5,621.4 266.5,627.2 273.0,625.9 282.2,617.5 288.8,621.9 296.6,627.2 301.9,629.0 307.1,627.2 313.7,620.6 318.9,622.7 322.3,622.5 325.5,656.5 332.0,658.0 338.5,665.2 343.8,659.1 353.0,663.3 358.2,660.7 362.1,663.3 370.0,660.7 373.9,675.6 377.9,679.6 385.7,684.3 394.9,667.8 398.8,666.0 406.7,666.5 410.6,670.4 414.5,670.4 417.2,673.0 422.4,663.3 427.6,669.1 430.5,670.4 433.6,669.1 437.8,660.7 442.3,664.4 446.2,663.9 450.2,662.5 454.1,667.0 459.3,668.6 463.3,670.4 465.9,673.0 469.8,670.4 473.7,669.1 477.7,646.8 481.6,649.4 485.5,629.3 489.5,624.0 494.7,621.4 498.6,624.5 502.6,633.7 507.8,640.3 514.4,646.8 518.3,642.9 521.7,636.3 526.1,646.0 530.1,647.6 535.3,651.3 541.9,651.3 546.3,642.4 550.5,645.0 555.0,650.2 561.5,649.4 566.2,659.9 569.4,659.1 577.3,664.4 582.5,661.2 590.4,650.2 594.3,653.4 598.2,645.5 602.1,645.0 606.6,642.4 610.0,644.2 613.9,633.7 617.9,633.7 625.7,642.9 629.7,632.9 634.9,630.3 641.5,624.5 645.4,628.5 650.6,637.1 654.5,638.2 658.5,635.6 662.4,642.9 666.3,645.0 670.3,640.8 675.5,639.7 678.1,640.8 682.1,636.3 686.0,645.0 689.9,647.6 697.8,640.8 705.7,647.6 712.2,654.7 716.1,656.0 720.1,656.0 722.7,657.3 729.2,650.2 734.5,649.4 738.4,647.6 742.3,650.8 750.2,635.6 758.1,642.9 762.0,641.6 767.2,647.6 769.9,648.7 773.8,642.9 779.0,641.6 786.9,637.1 789.5,642.9 794.8,630.3 798.7,630.3 802.6,638.2 806.5,633.7 811.8,635.8 818.3,631.9 822.3,646.8 826.2,650.8 835.4,651.3 838.0,653.9 843.2,649.4 849.8,650.2 855.0,657.3 857.7,658.6 860.5,652.0 863.1,650.2 865.7,651.3 870.5,660.7 873.6,662.5 878.3,669.1 880.9,668.6 886.2,659.9 891.9,662.5 897.2,666.0 902.4,658.1 906.4,659.1 910.8,664.4 916.8,661.8 922.1,646.8 929.9,647.6 937.0,644.2 945.7,658.1 952.2,652.0 957.5,652.9 961.4,646.8 964.0,636.3 966.6,620.6 970.0,620.6 978.4,628.5 985.0,627.7 989.4,632.4 994.1,628.5 998.1,632.4 1002.0,629.8 1005.9,636.3 1009.9,637.1 1013.8,650.2 1023.0,656.0 1028.2,654.7 1036.1,654.7 1041.3,657.3 1046.0,665.2 1050.5,666.0 1058.3,665.2 1062.3,661.8 1070.1,665.2 1074.1,656.0 1078.0,651.3 1083.2,654.7 1088.5,650.2 1092.4,631.1 1097.7,626.6 1101.6,631.1 1105.5,633.7 1109.5,646.0 1116.0,647.6 1125.2,658.6 1133.0,652.0 1138.3,652.0 1144.8,663.9 1148.8,667.0 1154.0,662.5 1157.9,664.4 1163.2,661.8 1167.1,666.0 1172.4,673.0 1177.6,676.4 1182.8,670.4 1186.7,671.2 1190.7,678.3 1197.2,680.1 1202.5,671.7 1211.7,671.7 1214.3,673.0 1218.2,667.8 1221.6,679.6 1226.1,681.7 1230.0,663.9 1233.9,658.1 1237.9,659.9 1243.1,659.9 1247.0,662.5 1251.0,659.9 1254.9,650.8 1258.8,652.0 1262.8,659.1 1266.2,659.9 1269.8,649.4 1274.5,654.7 1278.5,651.3 1282.9,657.3 1289.0,657.3" fill="none" stroke="#1e90ff" stroke-width="1" shape-rendering="crispEdges"/>
<text class="k" x="9" y="599" font-size="12.4" fill="#000">RSI(14) 41.3258</text>
<text class="k" x="1624" y="597.2" font-size="12.4" fill="#000">100</text>
<text class="k" x="1624" y="626.2" font-size="12.4" fill="#000">70</text>
<text class="k" x="1624" y="675.7" font-size="12.4" fill="#000">30</text>
<text class="k" x="1624" y="705.2" font-size="12.4" fill="#000">0</text>
<g shape-rendering="crispEdges" fill="#000">
<rect x="5" y="709" width="1" height="3"/>
<rect x="101" y="709" width="1" height="3"/>
<rect x="197" y="709" width="1" height="3"/>
<rect x="293" y="709" width="1" height="3"/>
<rect x="389" y="709" width="1" height="3"/>
<rect x="485" y="709" width="1" height="3"/>
<rect x="581" y="709" width="1" height="3"/>
<rect x="677" y="709" width="1" height="3"/>
<rect x="773" y="709" width="1" height="3"/>
<rect x="869" y="709" width="1" height="3"/>
<rect x="965" y="709" width="1" height="3"/>
<rect x="1061" y="709" width="1" height="3"/>
<rect x="1157" y="709" width="1" height="3"/>
<rect x="1253" y="709" width="1" height="3"/>
</g>
<text class="k" x="3.2" y="724" font-size="12.7" fill="#000" textLength="73.3" lengthAdjust="spacingAndGlyphs">31 Aug 2018</text>
<text class="k" x="100" y="724" font-size="12.7" fill="#000">10 Sep 01:30</text>
<text class="k" x="196" y="724" font-size="12.7" fill="#000">18 Sep 01:30</text>
<text class="k" x="292" y="724" font-size="12.7" fill="#000">27 Sep 01:30</text>
<text class="k" x="388" y="724" font-size="12.7" fill="#000" textLength="75.4" lengthAdjust="spacingAndGlyphs">12 Oct 01:30</text>
<text class="k" x="484" y="724" font-size="12.7" fill="#000" textLength="75.4" lengthAdjust="spacingAndGlyphs">22 Oct 01:30</text>
<text class="k" x="580" y="724" font-size="12.7" fill="#000" textLength="75.4" lengthAdjust="spacingAndGlyphs">30 Oct 01:30</text>
<text class="k" x="676" y="724" font-size="12.7" fill="#000">7 Nov 01:30</text>
<text class="k" x="772" y="724" font-size="12.7" fill="#000">15 Nov 01:30</text>
<text class="k" x="868" y="724" font-size="12.7" fill="#000">23 Nov 01:30</text>
<text class="k" x="964" y="724" font-size="12.7" fill="#000">3 Dec 01:30</text>
<text class="k" x="1060" y="724" font-size="12.7" fill="#000">11 Dec 01:30</text>
<text class="k" x="1156" y="724" font-size="12.7" fill="#000">19 Dec 01:30</text>
<text class="k" x="1252" y="724" font-size="12.7" fill="#000">27 Dec 01:30</text>
</svg></body></html>
